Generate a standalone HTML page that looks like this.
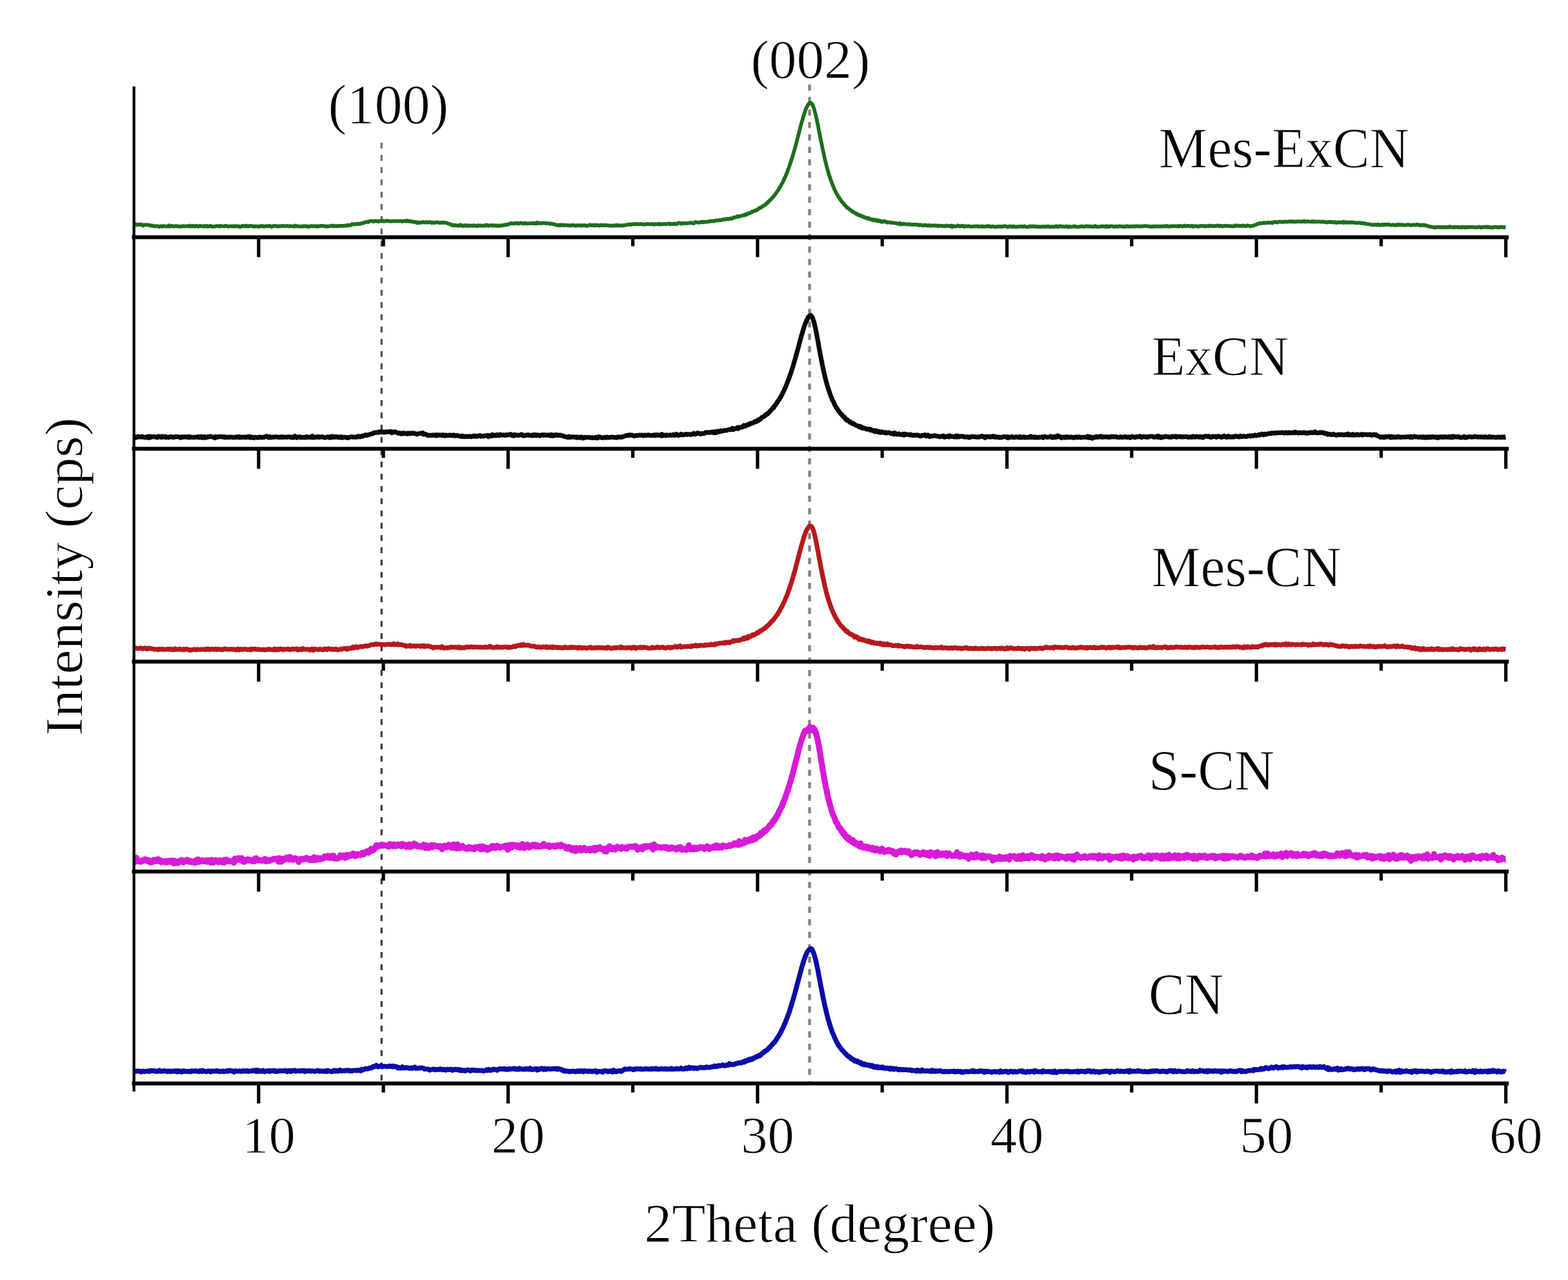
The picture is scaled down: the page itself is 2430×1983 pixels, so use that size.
<!DOCTYPE html>
<html><head><meta charset="utf-8"><title>XRD patterns</title>
<style>html,body{margin:0;padding:0;background:#fff;}svg{display:block;}</style>
</head><body>
<svg width="2430" height="1983" viewBox="0 0 2430 1983">
<rect width="100%" height="100%" fill="#fff"/>
<defs><linearGradient id="g100" gradientUnits="userSpaceOnUse" x1="0" y1="221" x2="0" y2="700"><stop offset="0" stop-color="#727272"/><stop offset="1" stop-color="#3c3c3c"/></linearGradient></defs>
<line x1="591.3" y1="221" x2="591.3" y2="1676" stroke="url(#g100)" stroke-width="3.2" stroke-dasharray="9 10"/>
<line x1="1254.6" y1="131" x2="1254.6" y2="1676" stroke="#858585" stroke-width="4.5" stroke-dasharray="9.5 9.8"/>
<path d="M208.0 348.9L209.5 347.1L211.0 348.3L212.5 348.0L214.0 348.0L215.5 348.2L217.0 347.5L218.5 348.2L220.0 348.0L221.5 349.7L223.0 348.5L224.5 348.3L226.0 348.4L227.5 348.3L229.0 348.3L230.5 348.7L232.0 349.3L233.5 349.2L235.0 349.9L236.5 349.6L238.0 349.9L239.5 350.7L241.0 350.5L242.5 350.2L244.0 350.4L245.5 350.7L247.0 351.3L248.5 350.4L250.0 350.4L251.5 350.9L253.0 350.1L254.5 350.4L256.0 350.8L257.5 350.7L259.0 350.5L260.5 350.8L262.0 349.4L263.5 350.9L265.0 350.1L266.5 349.8L268.0 350.6L269.5 350.8L271.0 350.3L272.5 350.1L274.0 350.5L275.5 350.5L277.0 351.0L278.5 350.8L280.0 350.6L281.5 350.9L283.0 350.4L284.5 350.1L286.0 350.7L287.5 350.7L289.0 350.4L290.5 350.2L292.0 350.6L293.5 349.5L295.0 350.8L296.5 350.7L298.0 349.8L299.5 350.5L301.0 350.1L302.5 350.8L304.0 349.7L305.5 350.1L307.0 350.8L308.5 350.9L310.0 349.6L311.5 350.3L313.0 350.6L314.5 350.2L316.0 351.1L317.5 350.0L319.0 350.6L320.5 350.0L322.0 351.0L323.5 350.5L325.0 350.3L326.5 349.8L328.0 351.1L329.5 350.8L331.0 350.8L332.5 350.9L334.0 350.6L335.5 350.2L337.0 350.1L338.5 350.1L340.0 351.0L341.5 349.9L343.0 350.2L344.5 350.3L346.0 350.5L347.5 350.7L349.0 349.9L350.5 349.8L352.0 350.4L353.5 350.9L355.0 350.7L356.5 350.5L358.0 350.3L359.5 350.6L361.0 350.3L362.5 350.8L364.0 350.1L365.5 350.5L367.0 350.4L368.5 350.6L370.0 350.5L371.5 351.4L373.0 351.0L374.5 351.0L376.0 349.6L377.5 350.3L379.0 350.2L380.5 350.6L382.0 349.5L383.5 350.9L385.0 350.8L386.5 349.9L388.0 350.0L389.5 350.1L391.0 350.4L392.5 350.7L394.0 351.2L395.5 350.3L397.0 350.7L398.5 350.5L400.0 351.1L401.5 350.7L403.0 351.0L404.5 350.0L406.0 350.3L407.5 350.1L409.0 351.0L410.5 350.7L412.0 350.3L413.5 350.2L415.0 350.6L416.5 350.1L418.0 350.0L419.5 350.6L421.0 351.4L422.5 350.3L424.0 350.2L425.5 349.9L427.0 349.9L428.5 350.6L430.0 350.7L431.5 350.4L433.0 350.5L434.5 350.4L436.0 350.4L437.5 349.8L439.0 350.2L440.5 350.4L442.0 350.1L443.5 350.2L445.0 350.0L446.5 350.2L448.0 350.7L449.5 350.2L451.0 350.3L452.5 350.7L454.0 350.6L455.5 351.0L457.0 349.5L458.5 350.7L460.0 350.2L461.5 350.4L463.0 350.7L464.5 350.8L466.0 350.8L467.5 350.4L469.0 351.0L470.5 350.2L472.0 350.3L473.5 350.7L475.0 350.1L476.5 351.2L478.0 350.7L479.5 351.2L481.0 350.3L482.5 350.2L484.0 350.4L485.5 350.6L487.0 350.1L488.5 350.5L490.0 350.3L491.5 351.0L493.0 350.1L494.5 350.7L496.0 350.1L497.5 349.9L499.0 350.0L500.5 349.8L502.0 350.4L503.5 350.7L505.0 350.4L506.5 350.6L508.0 350.9L509.5 350.4L511.0 350.4L512.5 350.1L514.0 349.6L515.5 350.5L517.0 349.5L518.5 350.4L520.0 350.1L521.5 350.6L523.0 350.1L524.5 349.7L526.0 350.2L527.5 349.8L529.0 349.9L530.5 350.0L532.0 349.9L533.5 349.8L535.0 349.5L536.5 349.7L538.0 348.9L539.5 349.4L541.0 348.7L542.5 349.2L544.0 348.8L545.5 347.1L547.0 347.7L548.5 347.4L550.0 346.9L551.5 347.5L553.0 347.1L554.5 346.5L556.0 347.0L557.5 346.8L559.0 346.6L560.5 345.7L562.0 345.9L563.5 345.5L565.0 344.3L566.5 344.1L568.0 343.9L569.5 343.4L571.0 344.0L572.5 343.1L574.0 342.4L575.5 342.3L577.0 342.5L578.5 343.4L580.0 342.3L581.5 342.5L583.0 342.6L584.5 342.4L586.0 343.3L587.5 342.2L589.0 342.7L590.5 342.5L592.0 342.7L593.5 341.9L595.0 343.1L596.5 342.4L598.0 342.4L599.5 342.0L601.0 342.1L602.5 342.6L604.0 342.8L605.5 342.7L607.0 342.9L608.5 342.7L610.0 342.4L611.5 342.7L613.0 342.6L614.5 342.4L616.0 342.7L617.5 342.9L619.0 342.5L620.5 342.3L622.0 342.7L623.5 343.2L625.0 342.3L626.5 342.4L628.0 342.3L629.5 342.9L631.0 341.7L632.5 342.6L634.0 342.9L635.5 342.3L637.0 343.4L638.5 343.3L640.0 343.3L641.5 344.0L643.0 343.6L644.5 344.2L646.0 345.3L647.5 344.2L649.0 345.4L650.5 344.6L652.0 345.0L653.5 344.7L655.0 343.8L656.5 344.4L658.0 344.7L659.5 344.2L661.0 344.1L662.5 344.8L664.0 344.4L665.5 344.0L667.0 344.4L668.5 345.1L670.0 344.5L671.5 345.1L673.0 345.3L674.5 344.8L676.0 344.3L677.5 344.2L679.0 344.7L680.5 345.1L682.0 344.9L683.5 345.0L685.0 344.6L686.5 345.0L688.0 344.8L689.5 345.1L691.0 345.0L692.5 345.4L694.0 346.3L695.5 346.5L697.0 347.0L698.5 348.0L700.0 348.0L701.5 349.5L703.0 349.0L704.5 348.6L706.0 349.4L707.5 349.4L709.0 349.1L710.5 349.9L712.0 349.2L713.5 348.3L715.0 349.8L716.5 349.3L718.0 350.1L719.5 349.2L721.0 349.0L722.5 350.1L724.0 349.1L725.5 349.6L727.0 350.1L728.5 349.6L730.0 349.5L731.5 349.6L733.0 349.8L734.5 349.2L736.0 349.8L737.5 349.7L739.0 350.4L740.5 349.4L742.0 349.1L743.5 349.8L745.0 349.4L746.5 349.6L748.0 349.6L749.5 350.0L751.0 349.2L752.5 349.5L754.0 348.5L755.5 349.2L757.0 350.1L758.5 349.2L760.0 349.2L761.5 349.0L763.0 349.7L764.5 349.6L766.0 349.0L767.5 349.8L769.0 349.6L770.5 349.8L772.0 349.2L773.5 350.2L775.0 349.6L776.5 349.3L778.0 349.0L779.5 348.9L781.0 349.0L782.5 348.2L784.0 348.4L785.5 347.9L787.0 347.8L788.5 347.2L790.0 346.6L791.5 345.6L793.0 346.3L794.5 346.4L796.0 346.1L797.5 346.2L799.0 345.8L800.5 345.8L802.0 345.5L803.5 346.5L805.0 346.0L806.5 345.7L808.0 345.3L809.5 345.8L811.0 346.4L812.5 346.0L814.0 345.5L815.5 346.4L817.0 346.4L818.5 346.2L820.0 346.1L821.5 346.2L823.0 346.0L824.5 346.0L826.0 345.4L827.5 346.3L829.0 345.8L830.5 346.5L832.0 344.8L833.5 345.9L835.0 346.0L836.5 345.5L838.0 345.8L839.5 345.9L841.0 345.8L842.5 345.4L844.0 345.5L845.5 346.0L847.0 346.1L848.5 345.8L850.0 346.0L851.5 346.3L853.0 346.9L854.5 346.5L856.0 346.7L857.5 347.7L859.0 347.5L860.5 348.1L862.0 348.6L863.5 349.0L865.0 348.5L866.5 349.3L868.0 348.3L869.5 349.2L871.0 348.4L872.5 348.5L874.0 349.3L875.5 348.9L877.0 348.7L878.5 348.9L880.0 349.3L881.5 349.1L883.0 349.1L884.5 349.5L886.0 348.8L887.5 348.9L889.0 348.9L890.5 349.6L892.0 349.5L893.5 349.6L895.0 349.1L896.5 349.1L898.0 349.5L899.5 349.0L901.0 349.5L902.5 349.4L904.0 348.9L905.5 349.1L907.0 349.1L908.5 349.8L910.0 350.2L911.5 349.1L913.0 349.2L914.5 348.2L916.0 349.2L917.5 349.1L919.0 348.7L920.5 349.5L922.0 348.5L923.5 349.1L925.0 349.2L926.5 348.7L928.0 349.5L929.5 349.6L931.0 348.6L932.5 348.6L934.0 349.4L935.5 349.1L937.0 348.7L938.5 349.0L940.0 349.1L941.5 349.1L943.0 349.5L944.5 349.3L946.0 349.8L947.5 349.7L949.0 349.4L950.5 349.5L952.0 349.6L953.5 349.4L955.0 348.6L956.5 349.4L958.0 349.1L959.5 349.7L961.0 349.1L962.5 349.3L964.0 349.2L965.5 349.7L967.0 349.0L968.5 348.7L970.0 348.8L971.5 348.2L973.0 348.2L974.5 347.8L976.0 347.7L977.5 348.2L979.0 347.1L980.5 347.3L982.0 347.2L983.5 347.5L985.0 346.8L986.5 347.0L988.0 347.2L989.5 347.5L991.0 347.2L992.5 347.1L994.0 346.9L995.5 347.5L997.0 347.9L998.5 347.4L1000.0 347.4L1001.5 347.5L1003.0 346.9L1004.5 347.2L1006.0 347.2L1007.5 347.4L1009.0 347.3L1010.5 346.8L1012.0 347.7L1013.5 347.9L1015.0 347.1L1016.5 347.4L1018.0 347.3L1019.5 347.5L1021.0 346.6L1022.5 347.8L1024.0 347.0L1025.5 347.7L1027.0 347.2L1028.5 347.0L1030.0 347.1L1031.5 347.5L1033.0 346.8L1034.5 346.9L1036.0 346.9L1037.5 346.3L1039.0 347.5L1040.5 347.2L1042.0 346.9L1043.5 347.3L1045.0 346.4L1046.5 346.7L1048.0 347.3L1049.5 346.9L1051.0 345.6L1052.5 345.1L1054.0 345.9L1055.5 346.7L1057.0 346.0L1058.5 346.0L1060.0 346.2L1061.5 345.6L1063.0 345.9L1064.5 346.0L1066.0 345.8L1067.5 345.7L1069.0 345.2L1070.5 345.5L1072.0 345.1L1073.5 345.7L1075.0 346.1L1076.5 344.6L1078.0 344.0L1079.5 344.5L1081.0 344.7L1082.5 344.9L1084.0 344.8L1085.5 343.9L1087.0 343.8L1088.5 344.5L1090.0 343.4L1091.5 344.1L1093.0 343.5L1094.5 343.7L1096.0 343.6L1097.5 343.4L1099.0 343.3L1100.5 342.4L1102.0 342.8L1103.5 342.5L1105.0 342.4L1106.5 342.6L1108.0 341.9L1109.5 341.5L1111.0 341.3L1112.5 341.3L1114.0 341.5L1115.5 340.7L1117.0 341.2L1118.5 340.7L1120.0 340.2L1121.5 339.6L1123.0 340.0L1124.5 339.9L1126.0 338.7L1127.5 339.6L1129.0 339.5L1130.5 338.7L1132.0 338.5L1133.5 338.9L1135.0 338.2L1136.5 337.0L1138.0 337.0L1139.5 336.6L1141.0 336.3L1142.5 335.1L1144.0 335.9L1145.5 335.0L1147.0 334.9L1148.5 334.4L1150.0 334.3L1150.8 333.7L1151.5 333.3L1152.2 333.5L1153.0 333.7L1153.8 332.8L1154.5 333.2L1155.2 332.5L1156.0 331.9L1156.8 332.5L1157.5 331.3L1158.2 331.8L1159.0 330.9L1159.8 331.0L1160.5 330.1L1161.2 330.0L1162.0 330.4L1162.8 329.8L1163.5 329.4L1164.2 328.9L1165.0 328.9L1165.8 327.9L1166.5 327.7L1167.2 327.7L1168.0 327.1L1168.8 326.8L1169.5 326.7L1170.2 326.3L1171.0 325.9L1171.8 326.2L1172.5 325.6L1173.2 325.3L1174.0 324.4L1174.8 323.9L1175.5 323.1L1176.2 323.1L1177.0 322.0L1177.8 322.1L1178.5 322.1L1179.2 321.9L1180.0 321.2L1180.8 320.1L1181.5 320.1L1182.2 319.1L1183.0 319.1L1183.8 318.3L1184.5 318.1L1185.2 318.0L1186.0 316.9L1186.8 316.8L1187.5 315.5L1188.2 314.7L1189.0 314.6L1189.8 314.1L1190.5 312.7L1191.2 312.2L1192.0 311.1L1192.8 310.7L1193.5 310.3L1194.2 309.3L1195.0 308.3L1195.8 307.3L1196.5 307.0L1197.2 306.3L1198.0 305.4L1198.8 304.4L1199.5 303.1L1200.2 302.9L1201.0 301.5L1201.8 300.5L1202.5 299.7L1203.2 298.0L1204.0 297.4L1204.8 296.3L1205.5 295.3L1206.2 294.4L1207.0 293.0L1207.8 291.3L1208.5 290.4L1209.2 289.2L1210.0 287.9L1210.8 286.3L1211.5 284.8L1212.2 283.8L1213.0 282.3L1213.8 280.7L1214.5 278.9L1215.2 277.9L1216.0 275.5L1216.8 274.2L1217.5 272.9L1218.2 270.7L1219.0 269.0L1219.8 266.9L1220.5 265.3L1221.2 263.0L1222.0 261.2L1222.8 259.1L1223.5 256.8L1224.2 254.9L1225.0 252.4L1225.8 250.2L1226.5 247.9L1227.2 245.5L1228.0 243.2L1228.8 240.7L1229.5 238.0L1230.2 235.4L1231.0 232.8L1231.8 230.1L1232.5 227.5L1233.2 224.7L1234.0 221.9L1234.8 219.1L1235.5 216.1L1236.2 213.4L1237.0 210.3L1237.8 207.5L1238.5 204.8L1239.2 201.6L1240.0 198.8L1240.8 195.8L1241.5 193.0L1242.2 190.1L1243.0 187.5L1243.8 184.8L1244.5 182.2L1245.2 179.9L1246.0 177.3L1246.8 175.0L1247.5 172.7L1248.2 170.6L1249.0 168.6L1249.8 166.6L1250.5 165.3L1251.2 164.2L1252.0 162.8L1252.8 161.5L1253.5 161.2L1254.2 160.0L1255.0 159.5L1255.8 159.0L1256.1 159.1L1256.5 159.4L1257.2 160.5L1258.0 160.6L1258.8 161.5L1259.5 163.0L1260.2 164.9L1261.0 166.7L1261.8 169.3L1262.5 171.9L1263.2 174.7L1264.0 177.8L1264.8 180.8L1265.5 184.2L1266.2 187.9L1267.0 191.5L1267.8 195.0L1268.5 198.9L1269.2 202.7L1270.0 206.6L1270.8 210.4L1271.5 214.1L1272.2 217.9L1273.0 221.7L1273.8 225.4L1274.5 228.8L1275.2 232.3L1276.0 236.0L1276.8 239.3L1277.5 242.8L1278.2 246.1L1279.0 249.2L1279.8 252.3L1280.5 255.3L1281.2 258.3L1282.0 260.9L1282.8 263.8L1283.5 266.4L1284.2 268.9L1285.0 271.5L1285.8 273.6L1286.5 276.1L1287.2 278.1L1288.0 280.2L1288.8 282.2L1289.5 284.4L1290.2 286.1L1291.0 288.1L1291.8 289.7L1292.5 291.8L1293.2 293.6L1294.0 294.9L1294.8 296.7L1295.5 298.0L1296.2 299.8L1297.0 300.8L1297.8 301.8L1298.5 303.7L1299.2 304.6L1300.0 305.6L1300.8 306.9L1301.5 307.8L1302.2 309.2L1303.0 310.1L1303.8 311.7L1304.5 312.5L1305.2 312.8L1306.0 313.8L1306.8 314.9L1307.5 315.4L1308.2 316.7L1309.0 317.6L1309.8 318.1L1310.5 319.0L1311.2 320.0L1312.0 321.0L1312.8 321.7L1313.5 321.9L1314.2 322.8L1315.0 323.0L1315.8 323.9L1316.5 324.1L1317.2 325.2L1318.0 325.1L1318.8 325.8L1319.5 326.6L1320.2 327.3L1321.0 327.1L1321.8 327.9L1322.5 328.6L1323.2 329.1L1324.0 329.2L1324.8 329.9L1325.5 330.2L1326.2 331.2L1327.0 331.3L1327.8 331.1L1328.5 331.1L1329.2 332.3L1330.0 333.1L1330.8 333.0L1331.5 333.6L1332.2 333.5L1333.0 333.5L1333.8 334.6L1334.5 334.6L1335.2 335.2L1336.0 334.7L1336.8 335.6L1337.5 335.5L1338.2 336.3L1339.0 336.1L1339.8 336.3L1340.5 336.6L1341.2 337.6L1342.0 337.3L1342.8 337.3L1343.5 337.4L1344.2 337.6L1345.0 338.8L1345.8 337.8L1346.5 338.3L1347.2 339.1L1348.0 339.5L1348.8 339.2L1349.5 339.8L1350.2 340.0L1351.0 340.2L1351.8 340.0L1352.5 340.9L1353.2 340.5L1354.0 341.2L1354.8 340.3L1355.5 341.3L1356.2 340.6L1357.0 340.6L1357.8 341.6L1358.5 341.2L1359.2 341.9L1360.0 341.4L1360.8 342.6L1361.5 342.1L1362.2 341.8L1363.0 342.5L1363.8 342.9L1364.5 342.3L1365.2 343.0L1366.0 343.7L1366.8 343.4L1367.5 343.1L1368.2 343.0L1369.0 343.6L1369.8 342.9L1370.5 342.4L1372.0 343.6L1373.5 343.6L1375.0 344.9L1376.5 344.5L1378.0 344.3L1379.5 344.4L1381.0 345.2L1382.5 344.9L1384.0 345.1L1385.5 345.5L1387.0 345.7L1388.5 345.9L1390.0 346.0L1391.5 346.6L1393.0 346.9L1394.5 345.7L1396.0 347.6L1397.5 346.7L1399.0 347.3L1400.5 346.6L1402.0 347.2L1403.5 347.2L1405.0 347.3L1406.5 347.7L1408.0 347.7L1409.5 347.2L1411.0 347.6L1412.5 348.1L1414.0 348.1L1415.5 347.8L1417.0 347.9L1418.5 348.1L1420.0 347.8L1421.5 347.8L1423.0 349.0L1424.5 348.3L1426.0 348.6L1427.5 348.3L1429.0 349.2L1430.5 349.5L1432.0 348.7L1433.5 349.1L1435.0 348.7L1436.5 349.7L1438.0 349.5L1439.5 348.8L1441.0 349.7L1442.5 349.4L1444.0 349.5L1445.5 349.6L1447.0 349.2L1448.5 349.3L1450.0 349.8L1451.5 349.6L1453.0 349.3L1454.5 350.6L1456.0 349.7L1457.5 349.6L1459.0 349.6L1460.5 350.2L1462.0 350.4L1463.5 350.1L1465.0 350.4L1466.5 349.5L1468.0 350.0L1469.5 350.0L1471.0 350.2L1472.5 350.5L1474.0 349.5L1475.5 351.6L1477.0 350.0L1478.5 350.5L1480.0 350.7L1481.5 350.8L1483.0 350.5L1484.5 349.3L1486.0 350.0L1487.5 350.8L1489.0 350.1L1490.5 350.1L1492.0 349.6L1493.5 351.1L1495.0 350.8L1496.5 350.2L1498.0 350.6L1499.5 350.6L1501.0 350.2L1502.5 350.6L1504.0 350.8L1505.5 350.9L1507.0 351.2L1508.5 350.7L1510.0 350.5L1511.5 350.9L1513.0 350.5L1514.5 350.3L1516.0 351.2L1517.5 350.6L1519.0 350.9L1520.5 351.1L1522.0 350.4L1523.5 351.1L1525.0 351.0L1526.5 350.8L1528.0 351.0L1529.5 350.6L1531.0 350.0L1532.5 350.8L1534.0 350.5L1535.5 351.3L1537.0 351.0L1538.5 350.7L1540.0 350.9L1541.5 351.5L1543.0 351.4L1544.5 351.1L1546.0 351.1L1547.5 350.8L1549.0 350.9L1550.5 351.2L1552.0 350.9L1553.5 351.1L1555.0 350.5L1556.5 350.3L1558.0 350.3L1559.5 350.8L1561.0 351.5L1562.5 351.5L1564.0 350.6L1565.5 350.4L1567.0 351.3L1568.5 351.2L1570.0 350.5L1571.5 351.5L1573.0 351.1L1574.5 351.6L1576.0 351.2L1577.5 351.4L1579.0 351.2L1580.5 350.7L1582.0 350.9L1583.5 350.8L1585.0 351.4L1586.5 350.6L1588.0 350.4L1589.5 351.3L1591.0 351.5L1592.5 351.6L1594.0 351.5L1595.5 350.4L1597.0 350.8L1598.5 350.8L1600.0 351.0L1601.5 350.2L1603.0 351.0L1604.5 351.2L1606.0 350.7L1607.5 351.1L1609.0 351.5L1610.5 351.1L1612.0 351.5L1613.5 351.5L1615.0 351.2L1616.5 351.2L1618.0 350.9L1619.5 351.5L1621.0 350.9L1622.5 350.8L1624.0 351.3L1625.5 350.7L1627.0 351.2L1628.5 351.5L1630.0 351.1L1631.5 351.1L1633.0 351.4L1634.5 351.3L1636.0 350.4L1637.5 350.5L1639.0 351.6L1640.5 351.2L1642.0 350.2L1643.5 350.5L1645.0 351.0L1646.5 350.6L1648.0 351.2L1649.5 351.0L1651.0 351.2L1652.5 350.5L1654.0 351.2L1655.5 351.8L1657.0 350.7L1658.5 351.5L1660.0 351.4L1661.5 351.2L1663.0 351.0L1664.5 350.5L1666.0 350.6L1667.5 351.3L1669.0 351.4L1670.5 351.5L1672.0 351.3L1673.5 351.3L1675.0 350.8L1676.5 350.5L1678.0 351.0L1679.5 351.1L1681.0 351.0L1682.5 350.3L1684.0 350.7L1685.5 350.3L1687.0 351.0L1688.5 350.5L1690.0 350.8L1691.5 351.0L1693.0 351.0L1694.5 351.4L1696.0 350.5L1697.5 350.0L1699.0 351.3L1700.5 351.4L1702.0 351.4L1703.5 351.0L1705.0 351.1L1706.5 350.9L1708.0 350.3L1709.5 350.6L1711.0 351.0L1712.5 350.6L1714.0 351.6L1715.5 350.2L1717.0 350.7L1718.5 351.3L1720.0 350.6L1721.5 350.4L1723.0 350.3L1724.5 350.5L1726.0 351.4L1727.5 351.0L1729.0 351.0L1730.5 350.6L1732.0 351.1L1733.5 350.8L1735.0 350.4L1736.5 350.6L1738.0 350.8L1739.5 351.2L1741.0 350.7L1742.5 350.9L1744.0 351.5L1745.5 350.4L1747.0 350.2L1748.5 351.1L1750.0 350.9L1751.5 350.7L1753.0 350.8L1754.5 350.6L1756.0 350.9L1757.5 350.5L1759.0 351.0L1760.5 350.2L1762.0 350.3L1763.5 350.7L1765.0 350.5L1766.5 350.9L1768.0 350.6L1769.5 350.4L1771.0 350.7L1772.5 350.4L1774.0 350.0L1775.5 350.2L1777.0 350.3L1778.5 350.4L1780.0 350.6L1781.5 350.9L1783.0 350.8L1784.5 351.3L1786.0 351.1L1787.5 350.5L1789.0 351.2L1790.5 351.0L1792.0 350.4L1793.5 350.7L1795.0 351.0L1796.5 350.6L1798.0 350.9L1799.5 350.7L1801.0 350.8L1802.5 350.4L1804.0 350.6L1805.5 350.3L1807.0 350.7L1808.5 349.8L1810.0 350.6L1811.5 351.0L1813.0 350.7L1814.5 350.4L1816.0 350.7L1817.5 350.1L1819.0 350.1L1820.5 350.3L1822.0 350.3L1823.5 350.8L1825.0 350.0L1826.5 350.8L1828.0 349.8L1829.5 350.1L1831.0 350.4L1832.5 350.8L1834.0 350.1L1835.5 349.5L1837.0 350.5L1838.5 350.3L1840.0 349.9L1841.5 349.9L1843.0 350.0L1844.5 350.3L1846.0 350.6L1847.5 349.7L1849.0 351.2L1850.5 350.3L1852.0 350.1L1853.5 350.5L1855.0 350.3L1856.5 351.2L1858.0 350.7L1859.5 350.1L1861.0 350.1L1862.5 350.0L1864.0 350.1L1865.5 350.5L1867.0 349.9L1868.5 350.8L1870.0 350.1L1871.5 350.1L1873.0 350.5L1874.5 349.4L1876.0 349.8L1877.5 350.4L1879.0 350.1L1880.5 350.1L1882.0 350.3L1883.5 349.9L1885.0 350.0L1886.5 349.6L1888.0 349.3L1889.5 350.6L1891.0 349.7L1892.5 349.8L1894.0 350.6L1895.5 350.5L1897.0 349.8L1898.5 349.8L1900.0 350.0L1901.5 349.6L1903.0 350.2L1904.5 350.1L1906.0 350.1L1907.5 350.3L1909.0 350.3L1910.5 350.7L1912.0 350.6L1913.5 349.3L1915.0 350.3L1916.5 349.5L1918.0 349.4L1919.5 350.2L1921.0 349.6L1922.5 349.8L1924.0 350.3L1925.5 349.6L1927.0 349.5L1928.5 350.0L1930.0 350.4L1931.5 350.1L1933.0 349.2L1934.5 349.6L1936.0 349.8L1937.5 350.6L1939.0 350.1L1940.5 349.9L1942.0 349.8L1943.5 348.9L1945.0 348.7L1946.5 348.2L1948.0 347.1L1949.5 346.9L1951.0 346.7L1952.5 345.6L1954.0 346.0L1955.5 345.8L1957.0 345.8L1958.5 344.9L1960.0 345.2L1961.5 345.7L1963.0 345.3L1964.5 344.6L1966.0 344.9L1967.5 345.3L1969.0 344.6L1970.5 344.8L1972.0 345.5L1973.5 344.4L1975.0 344.3L1976.5 343.9L1978.0 343.9L1979.5 344.7L1981.0 344.0L1982.5 343.5L1984.0 343.5L1985.5 343.8L1987.0 344.0L1988.5 343.4L1990.0 343.9L1991.5 343.3L1993.0 343.6L1994.5 343.6L1996.0 343.6L1997.5 343.2L1999.0 343.2L2000.5 343.5L2002.0 342.8L2003.5 343.4L2005.0 343.5L2006.5 343.7L2008.0 343.3L2009.5 343.2L2011.0 343.4L2012.5 343.0L2014.0 343.2L2015.5 343.5L2017.0 343.4L2018.5 342.9L2020.0 343.2L2021.5 342.5L2023.0 343.6L2024.5 343.1L2026.0 343.4L2027.5 342.9L2029.0 343.3L2030.5 343.5L2032.0 343.7L2033.5 342.8L2035.0 343.7L2036.5 343.3L2038.0 343.1L2039.5 343.7L2041.0 343.4L2042.5 343.4L2044.0 343.3L2045.5 343.7L2047.0 343.7L2048.5 343.6L2050.0 343.4L2051.5 343.6L2053.0 344.0L2054.5 344.4L2056.0 343.9L2057.5 344.5L2059.0 344.0L2060.5 343.6L2062.0 344.3L2063.5 343.7L2065.0 344.3L2066.5 344.6L2068.0 344.1L2069.5 344.2L2071.0 345.3L2072.5 344.4L2074.0 344.5L2075.5 344.7L2077.0 344.4L2078.5 344.5L2080.0 344.7L2081.5 343.6L2083.0 345.2L2084.5 344.2L2086.0 344.2L2087.5 344.9L2089.0 344.8L2090.5 344.3L2092.0 344.9L2093.5 344.4L2095.0 344.6L2096.5 344.3L2098.0 344.7L2099.5 345.2L2101.0 345.1L2102.5 345.2L2104.0 345.5L2105.5 345.2L2107.0 345.0L2108.5 345.2L2110.0 346.1L2111.5 345.7L2113.0 346.0L2114.5 346.1L2116.0 346.6L2117.5 346.9L2119.0 347.0L2120.5 347.2L2122.0 347.3L2123.5 347.5L2125.0 348.1L2126.5 348.4L2128.0 348.5L2129.5 348.2L2131.0 347.9L2132.5 348.5L2134.0 348.5L2135.5 347.6L2137.0 348.6L2138.5 348.5L2140.0 348.9L2141.5 347.8L2143.0 347.8L2144.5 348.6L2146.0 347.6L2147.5 348.0L2149.0 347.9L2150.5 347.9L2152.0 347.6L2153.5 348.2L2155.0 348.7L2156.5 348.5L2158.0 348.5L2159.5 348.2L2161.0 349.0L2162.5 348.6L2164.0 348.8L2165.5 347.8L2167.0 348.6L2168.5 348.0L2170.0 348.6L2171.5 348.5L2173.0 348.0L2174.5 348.5L2176.0 348.9L2177.5 348.7L2179.0 348.7L2180.5 348.1L2182.0 348.2L2183.5 348.1L2185.0 348.6L2186.5 349.0L2188.0 348.7L2189.5 348.5L2191.0 348.1L2192.5 348.7L2194.0 348.5L2195.5 347.8L2197.0 347.9L2198.5 348.5L2200.0 348.3L2201.5 349.3L2203.0 348.7L2204.5 348.3L2206.0 348.6L2207.5 349.5L2209.0 348.7L2210.5 349.6L2212.0 349.8L2213.5 350.6L2215.0 350.8L2216.5 350.9L2218.0 351.7L2219.5 351.7L2221.0 352.2L2222.5 351.9L2224.0 352.7L2225.5 351.9L2227.0 352.1L2228.5 351.6L2230.0 352.0L2231.5 351.9L2233.0 352.0L2234.5 352.3L2236.0 351.7L2237.5 351.6L2239.0 352.3L2240.5 351.8L2242.0 351.6L2243.5 352.4L2245.0 352.2L2246.5 350.9L2248.0 351.8L2249.5 352.2L2251.0 352.2L2252.5 351.7L2254.0 352.5L2255.5 351.6L2257.0 351.8L2258.5 352.0L2260.0 351.9L2261.5 352.2L2263.0 352.3L2264.5 351.9L2266.0 352.5L2267.5 351.6L2269.0 351.8L2270.5 352.6L2272.0 351.9L2273.5 352.3L2275.0 351.7L2276.5 351.8L2278.0 351.9L2279.5 352.0L2281.0 351.8L2282.5 351.9L2284.0 352.2L2285.5 352.4L2287.0 352.0L2288.5 352.2L2290.0 352.3L2291.5 351.5L2293.0 351.3L2294.5 352.6L2296.0 352.4L2297.5 351.9L2299.0 352.1L2300.5 351.5L2302.0 351.4L2303.5 352.0L2305.0 351.3L2306.5 352.3L2308.0 351.6L2309.5 352.0L2311.0 352.7L2312.5 352.7L2314.0 351.8L2315.5 352.3L2317.0 351.5L2318.5 351.7L2320.0 352.1L2321.5 352.5L2323.0 351.7L2324.5 352.1L2326.0 352.0L2327.5 351.4L2329.0 351.9L2330.5 352.5L2332.0 351.9L2333.5 352.1" fill="none" stroke="#1e6e1e" stroke-width="5.8" stroke-linejoin="round" stroke-linecap="butt"/>
<path d="M208.0 676.6L209.5 676.9L211.0 677.9L212.5 677.4L214.0 676.1L215.5 677.0L217.0 676.7L218.5 677.1L220.0 676.1L221.5 677.1L223.0 677.1L224.5 677.9L226.0 677.2L227.5 677.3L229.0 676.2L230.5 678.3L232.0 676.0L233.5 677.6L235.0 676.8L236.5 676.5L238.0 676.7L239.5 676.7L241.0 677.2L242.5 677.0L244.0 677.8L245.5 676.0L247.0 677.0L248.5 676.5L250.0 677.5L251.5 675.9L253.0 676.9L254.5 677.2L256.0 676.2L257.5 677.6L259.0 677.1L260.5 677.6L262.0 677.6L263.5 676.5L265.0 676.6L266.5 676.9L268.0 677.5L269.5 677.5L271.0 676.7L272.5 676.7L274.0 676.6L275.5 676.7L277.0 676.9L278.5 677.0L280.0 678.2L281.5 676.8L283.0 676.9L284.5 677.3L286.0 676.5L287.5 676.9L289.0 677.1L290.5 677.5L292.0 676.4L293.5 677.8L295.0 676.9L296.5 677.2L298.0 677.5L299.5 677.4L301.0 677.7L302.5 677.2L304.0 677.1L305.5 677.3L307.0 676.5L308.5 677.8L310.0 676.7L311.5 676.4L313.0 678.2L314.5 677.0L316.0 676.4L317.5 678.1L319.0 676.9L320.5 677.7L322.0 676.6L323.5 677.0L325.0 676.2L326.5 676.1L328.0 676.6L329.5 677.1L331.0 677.5L332.5 678.4L334.0 676.5L335.5 677.7L337.0 676.8L338.5 677.0L340.0 676.3L341.5 676.3L343.0 676.7L344.5 676.5L346.0 677.1L347.5 676.7L349.0 677.8L350.5 677.2L352.0 677.2L353.5 677.7L355.0 677.4L356.5 677.1L358.0 677.1L359.5 677.1L361.0 677.7L362.5 677.6L364.0 677.3L365.5 677.6L367.0 676.8L368.5 677.4L370.0 676.4L371.5 677.9L373.0 677.2L374.5 677.2L376.0 677.5L377.5 677.1L379.0 677.0L380.5 677.8L382.0 677.2L383.5 676.6L385.0 677.4L386.5 676.2L388.0 678.1L389.5 677.1L391.0 677.2L392.5 678.4L394.0 678.3L395.5 677.2L397.0 677.5L398.5 677.8L400.0 678.1L401.5 677.1L403.0 677.2L404.5 677.8L406.0 677.3L407.5 677.6L409.0 677.5L410.5 676.5L412.0 676.7L413.5 675.7L415.0 677.0L416.5 677.9L418.0 676.6L419.5 677.8L421.0 677.7L422.5 677.1L424.0 677.2L425.5 677.2L427.0 676.7L428.5 677.0L430.0 677.1L431.5 677.5L433.0 677.6L434.5 676.8L436.0 677.6L437.5 676.7L439.0 677.1L440.5 677.4L442.0 677.2L443.5 677.1L445.0 677.3L446.5 676.9L448.0 676.8L449.5 677.1L451.0 677.7L452.5 677.1L454.0 678.2L455.5 677.3L457.0 675.5L458.5 676.9L460.0 678.1L461.5 677.2L463.0 676.9L464.5 676.7L466.0 677.9L467.5 677.7L469.0 677.6L470.5 677.4L472.0 678.0L473.5 677.6L475.0 676.5L476.5 677.6L478.0 677.3L479.5 677.1L481.0 677.6L482.5 677.2L484.0 675.6L485.5 678.0L487.0 677.8L488.5 677.1L490.0 677.0L491.5 677.3L493.0 676.5L494.5 677.4L496.0 677.1L497.5 677.0L499.0 676.7L500.5 676.8L502.0 677.8L503.5 677.9L505.0 677.5L506.5 677.2L508.0 676.7L509.5 677.6L511.0 678.1L512.5 676.3L514.0 677.8L515.5 676.0L517.0 677.0L518.5 677.4L520.0 676.4L521.5 676.4L523.0 677.3L524.5 677.7L526.0 676.9L527.5 677.9L529.0 676.8L530.5 678.2L532.0 677.3L533.5 677.3L535.0 677.5L536.5 677.4L538.0 678.2L539.5 678.4L541.0 677.5L542.5 677.1L544.0 676.6L545.5 676.8L547.0 677.2L548.5 677.1L550.0 677.1L551.5 677.0L553.0 677.1L554.5 675.9L556.0 675.8L557.5 676.8L559.0 676.4L560.5 675.4L562.0 676.1L563.5 674.8L565.0 674.7L566.5 673.6L568.0 674.6L569.5 673.8L571.0 674.0L572.5 673.3L574.0 672.6L575.5 672.1L577.0 672.2L578.5 671.0L580.0 670.5L581.5 670.1L583.0 670.1L584.5 669.9L586.0 670.2L587.5 669.0L589.0 669.7L590.5 668.7L592.0 669.4L593.5 669.1L595.0 670.0L596.5 669.4L598.0 668.8L599.5 669.3L601.0 669.2L602.5 668.9L604.0 668.9L605.5 668.5L607.0 670.6L608.5 669.2L610.0 669.7L611.5 668.8L613.0 669.1L614.5 670.0L616.0 670.4L617.5 671.3L619.0 670.6L620.5 671.6L622.0 672.2L623.5 670.9L625.0 671.9L626.5 670.9L628.0 671.6L629.5 671.6L631.0 672.4L632.5 671.0L634.0 671.5L635.5 672.0L637.0 670.8L638.5 671.4L640.0 671.0L641.5 671.0L643.0 671.8L644.5 671.8L646.0 672.8L647.5 672.2L649.0 672.1L650.5 671.4L652.0 671.3L653.5 671.7L655.0 670.6L656.5 673.0L658.0 672.2L659.5 672.5L661.0 673.3L662.5 674.4L664.0 674.9L665.5 674.1L667.0 674.6L668.5 674.4L670.0 673.9L671.5 674.5L673.0 674.4L674.5 673.6L676.0 675.0L677.5 673.6L679.0 674.5L680.5 673.8L682.0 674.0L683.5 674.0L685.0 674.8L686.5 673.7L688.0 674.3L689.5 675.3L691.0 674.0L692.5 674.4L694.0 674.8L695.5 674.1L697.0 674.7L698.5 674.0L700.0 674.8L701.5 674.5L703.0 674.0L704.5 675.3L706.0 674.7L707.5 674.8L709.0 674.7L710.5 675.2L712.0 675.6L713.5 675.9L715.0 676.5L716.5 675.2L718.0 675.7L719.5 676.6L721.0 676.0L722.5 676.1L724.0 676.7L725.5 676.0L727.0 676.1L728.5 675.8L730.0 676.7L731.5 676.3L733.0 675.3L734.5 676.0L736.0 675.1L737.5 676.3L739.0 676.0L740.5 675.5L742.0 675.4L743.5 674.6L745.0 676.0L746.5 675.5L748.0 675.3L749.5 675.9L751.0 675.1L752.5 675.1L754.0 674.9L755.5 674.5L757.0 676.5L758.5 675.0L760.0 674.8L761.5 675.5L763.0 673.2L764.5 674.8L766.0 674.8L767.5 674.2L769.0 674.9L770.5 673.4L772.0 674.5L773.5 674.9L775.0 673.1L776.5 673.5L778.0 674.1L779.5 674.2L781.0 673.8L782.5 674.4L784.0 674.3L785.5 673.4L787.0 674.1L788.5 673.4L790.0 673.0L791.5 672.8L793.0 674.7L794.5 674.1L796.0 675.2L797.5 673.3L799.0 673.9L800.5 674.3L802.0 674.1L803.5 674.4L805.0 674.2L806.5 673.8L808.0 672.9L809.5 673.6L811.0 675.1L812.5 674.6L814.0 674.9L815.5 673.8L817.0 674.1L818.5 673.7L820.0 674.4L821.5 674.2L823.0 674.4L824.5 675.1L826.0 673.7L827.5 674.6L829.0 673.4L830.5 674.8L832.0 673.9L833.5 674.1L835.0 674.2L836.5 675.1L838.0 674.2L839.5 673.9L841.0 673.5L842.5 674.3L844.0 673.7L845.5 673.9L847.0 674.2L848.5 674.5L850.0 673.8L851.5 674.5L853.0 675.1L854.5 673.3L856.0 674.9L857.5 675.3L859.0 673.8L860.5 674.5L862.0 673.4L863.5 674.4L865.0 674.1L866.5 674.5L868.0 674.1L869.5 674.5L871.0 675.1L872.5 675.5L874.0 676.0L875.5 676.6L877.0 676.5L878.5 677.2L880.0 677.7L881.5 676.2L883.0 677.6L884.5 677.1L886.0 676.9L887.5 676.8L889.0 677.1L890.5 677.1L892.0 677.8L893.5 676.9L895.0 678.1L896.5 677.1L898.0 678.0L899.5 678.2L901.0 676.9L902.5 678.2L904.0 678.8L905.5 677.4L907.0 677.9L908.5 677.6L910.0 677.7L911.5 677.5L913.0 677.4L914.5 678.1L916.0 678.1L917.5 677.7L919.0 678.5L920.5 678.3L922.0 678.1L923.5 677.3L925.0 678.7L926.5 678.4L928.0 676.5L929.5 677.1L931.0 677.4L932.5 678.2L934.0 678.4L935.5 677.5L937.0 677.8L938.5 678.1L940.0 677.0L941.5 678.0L943.0 677.5L944.5 677.8L946.0 677.6L947.5 677.0L949.0 677.1L950.5 677.7L952.0 677.7L953.5 677.5L955.0 678.2L956.5 677.4L958.0 676.9L959.5 677.3L961.0 677.2L962.5 676.9L964.0 677.2L965.5 676.3L967.0 676.1L968.5 675.4L970.0 674.6L971.5 675.0L973.0 674.2L974.5 674.4L976.0 673.7L977.5 674.3L979.0 674.1L980.5 674.5L982.0 675.3L983.5 675.6L985.0 674.9L986.5 674.3L988.0 674.8L989.5 674.5L991.0 674.0L992.5 674.3L994.0 674.2L995.5 674.0L997.0 675.1L998.5 674.1L1000.0 674.1L1001.5 674.8L1003.0 674.0L1004.5 673.8L1006.0 673.9L1007.5 674.7L1009.0 674.6L1010.5 674.6L1012.0 674.1L1013.5 673.9L1015.0 674.9L1016.5 673.6L1018.0 674.3L1019.5 673.7L1021.0 674.2L1022.5 674.3L1024.0 675.0L1025.5 672.8L1027.0 675.1L1028.5 673.8L1030.0 674.5L1031.5 674.8L1033.0 673.9L1034.5 674.2L1036.0 674.5L1037.5 674.2L1039.0 673.8L1040.5 674.3L1042.0 674.2L1043.5 673.2L1045.0 674.7L1046.5 674.0L1048.0 672.5L1049.5 673.3L1051.0 674.6L1052.5 674.5L1054.0 673.7L1055.5 672.5L1057.0 673.3L1058.5 673.9L1060.0 673.4L1061.5 673.0L1063.0 672.6L1064.5 673.4L1066.0 672.7L1067.5 672.9L1069.0 672.9L1070.5 673.5L1072.0 672.6L1073.5 672.5L1075.0 671.3L1076.5 672.8L1078.0 672.5L1079.5 671.9L1081.0 670.6L1082.5 671.4L1084.0 671.6L1085.5 672.6L1087.0 671.7L1088.5 671.6L1090.0 671.5L1091.5 671.7L1093.0 670.2L1094.5 670.2L1096.0 669.9L1097.5 670.2L1099.0 670.0L1100.5 670.1L1102.0 669.3L1103.5 669.8L1105.0 669.1L1106.5 670.5L1108.0 668.9L1109.5 670.4L1111.0 669.7L1112.5 668.0L1114.0 668.9L1115.5 668.5L1117.0 667.2L1118.5 668.1L1120.0 667.5L1121.5 667.5L1123.0 666.6L1124.5 666.8L1126.0 666.8L1127.5 666.2L1129.0 665.7L1130.5 665.7L1132.0 664.9L1133.5 665.4L1135.0 663.5L1136.5 665.4L1138.0 664.3L1139.5 664.1L1141.0 664.0L1142.5 662.5L1144.0 664.0L1145.5 661.8L1147.0 662.3L1148.5 661.8L1150.0 661.9L1150.8 660.9L1151.5 660.0L1152.2 660.7L1153.0 659.0L1153.8 659.9L1154.5 659.5L1155.2 660.3L1156.0 659.1L1156.8 658.8L1157.5 658.4L1158.2 658.1L1159.0 657.9L1159.8 658.3L1160.5 657.0L1161.2 657.3L1162.0 656.3L1162.8 656.7L1163.5 656.6L1164.2 655.5L1165.0 655.6L1165.8 655.6L1166.5 655.6L1167.2 655.3L1168.0 654.5L1168.8 653.7L1169.5 653.0L1170.2 653.8L1171.0 653.7L1171.8 652.9L1172.5 653.1L1173.2 651.7L1174.0 651.3L1174.8 651.8L1175.5 650.2L1176.2 650.5L1177.0 649.9L1177.8 649.4L1178.5 649.7L1179.2 648.0L1180.0 647.7L1180.8 646.4L1181.5 646.4L1182.2 646.1L1183.0 645.6L1183.8 645.2L1184.5 644.9L1185.2 643.9L1186.0 642.7L1186.8 643.0L1187.5 642.5L1188.2 641.2L1189.0 640.8L1189.8 641.2L1190.5 640.2L1191.2 639.5L1192.0 638.6L1192.8 637.7L1193.5 636.7L1194.2 636.3L1195.0 635.3L1195.8 634.4L1196.5 633.7L1197.2 632.8L1198.0 632.3L1198.8 630.8L1199.5 631.1L1200.2 628.9L1201.0 628.2L1201.8 627.6L1202.5 626.0L1203.2 625.1L1204.0 624.2L1204.8 622.2L1205.5 621.8L1206.2 620.5L1207.0 619.6L1207.8 618.6L1208.5 617.4L1209.2 616.3L1210.0 615.0L1210.8 613.5L1211.5 611.8L1212.2 610.7L1213.0 608.7L1213.8 607.4L1214.5 606.2L1215.2 604.5L1216.0 602.4L1216.8 600.9L1217.5 599.5L1218.2 597.7L1219.0 596.0L1219.8 593.5L1220.5 591.7L1221.2 590.0L1222.0 587.9L1222.8 586.0L1223.5 583.9L1224.2 581.8L1225.0 579.6L1225.8 577.4L1226.5 575.2L1227.2 572.8L1228.0 570.1L1228.8 568.1L1229.5 565.5L1230.2 563.0L1231.0 560.4L1231.8 557.5L1232.5 555.2L1233.2 552.4L1234.0 549.6L1234.8 547.2L1235.5 544.2L1236.2 541.6L1237.0 538.9L1237.8 536.2L1238.5 532.9L1239.2 530.3L1240.0 527.7L1240.8 524.8L1241.5 521.6L1242.2 519.5L1243.0 516.9L1243.8 514.4L1244.5 511.8L1245.2 509.2L1246.0 507.0L1246.8 504.7L1247.5 502.5L1248.2 500.7L1249.0 498.8L1249.8 496.8L1250.5 495.7L1251.2 494.3L1252.0 493.0L1252.8 490.8L1253.5 490.9L1254.2 490.1L1255.0 489.2L1255.8 489.7L1256.5 488.4L1256.5 490.0L1257.2 489.7L1258.0 490.0L1258.8 491.7L1259.5 493.0L1260.2 494.9L1261.0 497.0L1261.8 500.0L1262.5 503.1L1263.2 506.4L1264.0 509.6L1264.8 513.6L1265.5 517.5L1266.2 521.4L1267.0 525.4L1267.8 529.4L1268.5 533.6L1269.2 537.8L1270.0 542.1L1270.8 546.2L1271.5 550.1L1272.2 554.0L1273.0 558.0L1273.8 561.8L1274.5 565.8L1275.2 569.1L1276.0 572.8L1276.8 576.2L1277.5 579.3L1278.2 582.7L1279.0 585.6L1279.8 588.5L1280.5 591.3L1281.2 594.2L1282.0 597.0L1282.8 599.0L1283.5 601.9L1284.2 604.1L1285.0 606.3L1285.8 608.6L1286.5 610.7L1287.2 612.7L1288.0 614.8L1288.8 616.3L1289.5 618.7L1290.2 620.1L1291.0 621.4L1291.8 622.7L1292.5 624.7L1293.2 626.1L1294.0 627.8L1294.8 629.1L1295.5 630.8L1296.2 631.5L1297.0 632.9L1297.8 633.8L1298.5 634.9L1299.2 636.6L1300.0 637.1L1300.8 638.1L1301.5 639.0L1302.2 640.2L1303.0 641.2L1303.8 641.8L1304.5 642.3L1305.2 643.7L1306.0 644.0L1306.8 645.0L1307.5 645.9L1308.2 646.7L1309.0 646.3L1309.8 648.7L1310.5 648.9L1311.2 650.1L1312.0 650.9L1312.8 650.0L1313.5 650.8L1314.2 651.7L1315.0 652.5L1315.8 652.4L1316.5 653.0L1317.2 654.2L1318.0 653.7L1318.8 654.7L1319.5 655.6L1320.2 655.4L1321.0 656.3L1321.8 656.3L1322.5 656.0L1323.2 656.9L1324.0 657.4L1324.8 657.7L1325.5 658.3L1326.2 658.8L1327.0 659.1L1327.8 659.4L1328.5 659.4L1329.2 659.8L1330.0 660.1L1330.8 660.3L1331.5 661.6L1332.2 660.2L1333.0 661.6L1333.8 660.9L1334.5 661.7L1335.2 662.7L1336.0 662.3L1336.8 663.5L1337.5 662.5L1338.2 663.1L1339.0 663.1L1339.8 663.7L1340.5 663.7L1341.2 663.9L1342.0 664.4L1342.8 665.1L1343.5 664.8L1344.2 665.0L1345.0 665.0L1345.8 664.9L1346.5 664.7L1347.2 665.1L1348.0 665.9L1348.8 665.0L1349.5 666.6L1350.2 666.1L1351.0 666.0L1351.8 666.4L1352.5 667.2L1353.2 667.2L1354.0 667.3L1354.8 668.3L1355.5 668.7L1356.2 666.9L1357.0 668.3L1357.8 667.5L1358.5 667.3L1359.2 667.9L1360.0 668.9L1360.8 668.3L1361.5 668.4L1362.2 669.5L1363.0 669.2L1363.8 669.0L1364.5 670.1L1365.2 669.5L1366.0 669.0L1366.8 668.9L1367.5 669.4L1368.2 669.8L1369.0 670.3L1369.8 670.4L1370.5 670.1L1372.0 669.6L1373.5 671.0L1375.0 670.7L1376.5 670.2L1378.0 670.3L1379.5 671.3L1381.0 671.5L1382.5 671.9L1384.0 671.0L1385.5 672.8L1387.0 670.9L1388.5 672.0L1390.0 672.9L1391.5 672.9L1393.0 671.9L1394.5 672.9L1396.0 673.4L1397.5 673.2L1399.0 672.4L1400.5 674.0L1402.0 672.3L1403.5 673.3L1405.0 672.8L1406.5 673.2L1408.0 673.4L1409.5 673.9L1411.0 673.0L1412.5 674.0L1414.0 674.6L1415.5 674.1L1417.0 674.4L1418.5 674.4L1420.0 673.8L1421.5 674.1L1423.0 674.4L1424.5 674.8L1426.0 675.7L1427.5 675.5L1429.0 674.4L1430.5 674.5L1432.0 674.3L1433.5 673.6L1435.0 675.7L1436.5 675.3L1438.0 674.0L1439.5 675.2L1441.0 676.5L1442.5 675.5L1444.0 675.6L1445.5 675.5L1447.0 675.0L1448.5 674.9L1450.0 675.1L1451.5 675.7L1453.0 675.5L1454.5 676.1L1456.0 676.7L1457.5 676.1L1459.0 676.3L1460.5 675.7L1462.0 675.2L1463.5 677.2L1465.0 676.4L1466.5 676.7L1468.0 675.9L1469.5 675.2L1471.0 676.9L1472.5 675.0L1474.0 676.2L1475.5 676.0L1477.0 676.4L1478.5 676.8L1480.0 676.8L1481.5 675.2L1483.0 677.0L1484.5 675.4L1486.0 676.8L1487.5 676.2L1489.0 675.9L1490.5 676.2L1492.0 675.8L1493.5 676.6L1495.0 677.1L1496.5 677.0L1498.0 676.6L1499.5 677.3L1501.0 676.9L1502.5 677.9L1504.0 677.0L1505.5 676.4L1507.0 676.6L1508.5 676.3L1510.0 676.6L1511.5 676.7L1513.0 677.2L1514.5 677.2L1516.0 676.8L1517.5 677.1L1519.0 676.4L1520.5 676.5L1522.0 675.5L1523.5 676.4L1525.0 676.6L1526.5 678.3L1528.0 676.2L1529.5 677.0L1531.0 676.7L1532.5 676.1L1534.0 677.1L1535.5 677.0L1537.0 676.2L1538.5 675.7L1540.0 677.0L1541.5 676.2L1543.0 677.4L1544.5 676.9L1546.0 677.3L1547.5 676.9L1549.0 677.9L1550.5 677.4L1552.0 677.9L1553.5 677.1L1555.0 676.5L1556.5 676.3L1558.0 676.8L1559.5 677.3L1561.0 676.7L1562.5 678.5L1564.0 677.1L1565.5 677.4L1567.0 677.2L1568.5 676.4L1570.0 677.7L1571.5 677.5L1573.0 677.6L1574.5 676.6L1576.0 677.2L1577.5 677.1L1579.0 677.8L1580.5 676.4L1582.0 677.6L1583.5 677.9L1585.0 677.0L1586.5 676.7L1588.0 677.9L1589.5 677.3L1591.0 677.8L1592.5 677.6L1594.0 677.8L1595.5 677.1L1597.0 676.0L1598.5 677.6L1600.0 676.8L1601.5 677.6L1603.0 676.9L1604.5 678.1L1606.0 677.1L1607.5 677.7L1609.0 677.9L1610.5 677.2L1612.0 677.4L1613.5 677.2L1615.0 676.7L1616.5 678.1L1618.0 676.7L1619.5 676.4L1621.0 677.0L1622.5 677.3L1624.0 677.3L1625.5 677.0L1627.0 677.0L1628.5 676.0L1630.0 677.6L1631.5 678.2L1633.0 676.8L1634.5 676.2L1636.0 677.6L1637.5 677.1L1639.0 675.0L1640.5 676.8L1642.0 676.4L1643.5 676.6L1645.0 678.3L1646.5 677.8L1648.0 677.1L1649.5 677.2L1651.0 678.1L1652.5 676.6L1654.0 677.6L1655.5 676.9L1657.0 677.7L1658.5 677.3L1660.0 676.8L1661.5 677.8L1663.0 677.5L1664.5 678.3L1666.0 677.0L1667.5 677.3L1669.0 676.8L1670.5 677.9L1672.0 676.8L1673.5 677.2L1675.0 677.9L1676.5 677.5L1678.0 677.3L1679.5 677.3L1681.0 677.4L1682.5 677.5L1684.0 677.0L1685.5 676.0L1687.0 677.9L1688.5 676.6L1690.0 678.2L1691.5 677.3L1693.0 679.0L1694.5 677.8L1696.0 677.4L1697.5 677.7L1699.0 676.3L1700.5 677.2L1702.0 676.9L1703.5 677.1L1705.0 675.9L1706.5 675.9L1708.0 677.5L1709.5 677.1L1711.0 676.8L1712.5 677.0L1714.0 676.7L1715.5 676.8L1717.0 677.5L1718.5 676.9L1720.0 677.5L1721.5 676.7L1723.0 676.0L1724.5 676.7L1726.0 677.0L1727.5 676.4L1729.0 676.8L1730.5 676.7L1732.0 677.5L1733.5 677.5L1735.0 677.6L1736.5 676.6L1738.0 677.2L1739.5 677.7L1741.0 677.1L1742.5 676.9L1744.0 676.5L1745.5 677.4L1747.0 677.1L1748.5 677.5L1750.0 676.9L1751.5 678.1L1753.0 676.9L1754.5 676.2L1756.0 677.1L1757.5 677.2L1759.0 677.7L1760.5 676.7L1762.0 676.6L1763.5 676.8L1765.0 676.7L1766.5 675.7L1768.0 677.3L1769.5 677.6L1771.0 676.5L1772.5 676.3L1774.0 676.8L1775.5 676.4L1777.0 677.3L1778.5 676.5L1780.0 677.2L1781.5 676.1L1783.0 676.0L1784.5 676.0L1786.0 676.0L1787.5 677.1L1789.0 677.3L1790.5 676.9L1792.0 676.9L1793.5 675.6L1795.0 677.4L1796.5 676.1L1798.0 677.5L1799.5 678.2L1801.0 676.8L1802.5 677.1L1804.0 677.1L1805.5 676.0L1807.0 676.1L1808.5 676.4L1810.0 676.8L1811.5 677.2L1813.0 676.8L1814.5 677.4L1816.0 676.4L1817.5 675.9L1819.0 676.7L1820.5 676.7L1822.0 675.9L1823.5 677.3L1825.0 676.1L1826.5 676.3L1828.0 676.8L1829.5 676.1L1831.0 677.0L1832.5 676.9L1834.0 676.9L1835.5 676.6L1837.0 676.4L1838.5 676.2L1840.0 676.8L1841.5 677.4L1843.0 677.1L1844.5 676.8L1846.0 677.2L1847.5 677.4L1849.0 675.9L1850.5 676.6L1852.0 677.3L1853.5 676.2L1855.0 676.3L1856.5 676.9L1858.0 676.4L1859.5 677.2L1861.0 676.4L1862.5 676.9L1864.0 678.0L1865.5 677.2L1867.0 675.8L1868.5 675.9L1870.0 675.9L1871.5 676.5L1873.0 675.7L1874.5 676.8L1876.0 677.5L1877.5 677.4L1879.0 676.0L1880.5 676.3L1882.0 676.3L1883.5 676.0L1885.0 677.4L1886.5 676.0L1888.0 675.8L1889.5 676.6L1891.0 676.6L1892.5 677.3L1894.0 677.3L1895.5 676.3L1897.0 675.2L1898.5 676.8L1900.0 676.8L1901.5 677.4L1903.0 675.5L1904.5 675.7L1906.0 677.2L1907.5 677.2L1909.0 677.0L1910.5 676.3L1912.0 677.0L1913.5 676.0L1915.0 675.6L1916.5 676.2L1918.0 676.3L1919.5 676.7L1921.0 676.9L1922.5 675.2L1924.0 676.4L1925.5 676.5L1927.0 675.5L1928.5 676.0L1930.0 676.2L1931.5 676.4L1933.0 675.5L1934.5 675.6L1936.0 675.1L1937.5 675.8L1939.0 675.2L1940.5 674.9L1942.0 675.3L1943.5 674.7L1945.0 673.9L1946.5 675.0L1948.0 674.7L1949.5 674.2L1951.0 673.2L1952.5 674.2L1954.0 673.1L1955.5 672.2L1957.0 672.9L1958.5 673.8L1960.0 672.3L1961.5 672.7L1963.0 673.0L1964.5 672.1L1966.0 671.6L1967.5 671.6L1969.0 671.7L1970.5 670.9L1972.0 671.2L1973.5 671.2L1975.0 670.5L1976.5 671.0L1978.0 670.9L1979.5 670.3L1981.0 670.4L1982.5 670.5L1984.0 670.4L1985.5 670.4L1987.0 669.9L1988.5 670.5L1990.0 670.9L1991.5 670.8L1993.0 670.0L1994.5 670.8L1996.0 670.8L1997.5 670.0L1999.0 670.8L2000.5 670.4L2002.0 670.3L2003.5 670.6L2005.0 670.4L2006.5 669.2L2008.0 670.6L2009.5 669.9L2011.0 670.4L2012.5 670.9L2014.0 670.4L2015.5 670.2L2017.0 670.6L2018.5 670.8L2020.0 670.0L2021.5 670.1L2023.0 670.8L2024.5 671.4L2026.0 670.5L2027.5 671.0L2029.0 670.1L2030.5 670.5L2032.0 670.5L2033.5 669.8L2035.0 670.5L2036.5 670.4L2038.0 669.1L2039.5 670.4L2041.0 670.6L2042.5 670.6L2044.0 670.6L2045.5 669.9L2047.0 670.1L2048.5 670.4L2050.0 670.1L2051.5 670.5L2053.0 671.7L2054.5 671.0L2056.0 671.7L2057.5 673.2L2059.0 672.6L2060.5 672.4L2062.0 673.2L2063.5 673.3L2065.0 673.3L2066.5 672.4L2068.0 673.4L2069.5 673.5L2071.0 674.4L2072.5 673.7L2074.0 673.0L2075.5 673.5L2077.0 673.7L2078.5 673.2L2080.0 673.3L2081.5 674.0L2083.0 673.6L2084.5 673.6L2086.0 672.8L2087.5 673.5L2089.0 672.3L2090.5 674.0L2092.0 673.1L2093.5 673.7L2095.0 674.1L2096.5 672.7L2098.0 674.0L2099.5 673.5L2101.0 674.0L2102.5 673.1L2104.0 673.0L2105.5 674.0L2107.0 673.6L2108.5 673.4L2110.0 672.7L2111.5 674.1L2113.0 673.2L2114.5 673.2L2116.0 673.0L2117.5 673.3L2119.0 673.7L2120.5 673.3L2122.0 673.3L2123.5 673.0L2125.0 674.2L2126.5 674.3L2128.0 673.3L2129.5 673.1L2131.0 674.0L2132.5 673.3L2134.0 674.8L2135.5 675.3L2137.0 675.8L2138.5 677.0L2140.0 677.5L2141.5 677.0L2143.0 676.7L2144.5 677.6L2146.0 677.6L2147.5 676.4L2149.0 676.6L2150.5 676.9L2152.0 676.1L2153.5 676.4L2155.0 677.9L2156.5 676.3L2158.0 677.5L2159.5 676.6L2161.0 677.6L2162.5 677.2L2164.0 677.5L2165.5 676.3L2167.0 677.2L2168.5 676.7L2170.0 677.4L2171.5 677.4L2173.0 677.1L2174.5 677.0L2176.0 677.0L2177.5 677.2L2179.0 676.8L2180.5 676.8L2182.0 676.7L2183.5 676.5L2185.0 677.6L2186.5 676.3L2188.0 677.7L2189.5 677.4L2191.0 676.1L2192.5 676.0L2194.0 677.0L2195.5 676.5L2197.0 677.1L2198.5 677.5L2200.0 677.2L2201.5 676.9L2203.0 676.9L2204.5 677.8L2206.0 676.8L2207.5 678.0L2209.0 678.1L2210.5 676.8L2212.0 677.2L2213.5 678.0L2215.0 676.7L2216.5 677.3L2218.0 677.6L2219.5 676.5L2221.0 677.2L2222.5 677.1L2224.0 676.8L2225.5 677.9L2227.0 677.0L2228.5 678.3L2230.0 677.4L2231.5 676.7L2233.0 677.2L2234.5 676.6L2236.0 677.5L2237.5 677.4L2239.0 676.4L2240.5 676.8L2242.0 677.3L2243.5 677.1L2245.0 676.5L2246.5 677.6L2248.0 677.8L2249.5 676.3L2251.0 677.8L2252.5 676.0L2254.0 677.0L2255.5 676.7L2257.0 676.7L2258.5 677.1L2260.0 676.4L2261.5 677.0L2263.0 677.9L2264.5 677.3L2266.0 677.8L2267.5 677.5L2269.0 676.2L2270.5 678.0L2272.0 677.5L2273.5 677.4L2275.0 676.8L2276.5 676.8L2278.0 676.5L2279.5 677.0L2281.0 677.1L2282.5 677.0L2284.0 677.0L2285.5 676.0L2287.0 676.6L2288.5 676.6L2290.0 677.2L2291.5 676.8L2293.0 676.8L2294.5 677.1L2296.0 676.8L2297.5 676.9L2299.0 677.6L2300.5 676.9L2302.0 676.5L2303.5 677.4L2305.0 677.5L2306.5 677.4L2308.0 676.3L2309.5 677.5L2311.0 677.1L2312.5 677.1L2314.0 677.1L2315.5 677.3L2317.0 677.3L2318.5 677.8L2320.0 677.2L2321.5 677.0L2323.0 677.4L2324.5 677.0L2326.0 677.6L2327.5 677.1L2329.0 677.4L2330.5 676.8L2332.0 677.6L2333.5 677.4" fill="none" stroke="#0a0a0a" stroke-width="7.2" stroke-linejoin="round" stroke-linecap="butt"/>
<path d="M208.0 1003.8L209.5 1003.5L211.0 1004.1L212.5 1004.5L214.0 1004.9L215.5 1004.4L217.0 1004.0L218.5 1003.9L220.0 1004.8L221.5 1005.3L223.0 1004.6L224.5 1003.8L226.0 1004.0L227.5 1005.5L229.0 1004.8L230.5 1003.9L232.0 1005.0L233.5 1004.5L235.0 1005.0L236.5 1005.3L238.0 1005.3L239.5 1006.2L241.0 1006.0L242.5 1005.8L244.0 1006.4L245.5 1006.6L247.0 1005.3L248.5 1006.0L250.0 1005.7L251.5 1006.1L253.0 1005.5L254.5 1006.2L256.0 1006.2L257.5 1006.0L259.0 1005.6L260.5 1006.0L262.0 1005.6L263.5 1005.4L265.0 1006.3L266.5 1005.6L268.0 1006.8L269.5 1006.6L271.0 1005.1L272.5 1006.3L274.0 1005.6L275.5 1006.2L277.0 1006.2L278.5 1005.1L280.0 1006.0L281.5 1006.0L283.0 1006.7L284.5 1005.5L286.0 1006.6L287.5 1005.5L289.0 1006.0L290.5 1005.7L292.0 1006.9L293.5 1006.5L295.0 1007.5L296.5 1006.5L298.0 1006.6L299.5 1006.6L301.0 1005.8L302.5 1006.1L304.0 1006.9L305.5 1005.9L307.0 1006.2L308.5 1006.1L310.0 1006.5L311.5 1005.9L313.0 1006.0L314.5 1006.2L316.0 1006.2L317.5 1005.6L319.0 1006.6L320.5 1005.4L322.0 1005.4L323.5 1005.4L325.0 1006.6L326.5 1005.9L328.0 1005.6L329.5 1005.5L331.0 1006.3L332.5 1005.5L334.0 1005.4L335.5 1006.4L337.0 1005.4L338.5 1005.9L340.0 1006.1L341.5 1005.8L343.0 1006.0L344.5 1006.8L346.0 1005.8L347.5 1005.4L349.0 1005.1L350.5 1006.0L352.0 1005.9L353.5 1006.2L355.0 1005.8L356.5 1005.8L358.0 1005.7L359.5 1005.8L361.0 1006.1L362.5 1005.8L364.0 1006.1L365.5 1007.1L367.0 1006.3L368.5 1005.2L370.0 1007.0L371.5 1006.2L373.0 1005.5L374.5 1006.5L376.0 1006.0L377.5 1005.7L379.0 1005.7L380.5 1005.5L382.0 1006.1L383.5 1006.6L385.0 1005.8L386.5 1006.3L388.0 1007.0L389.5 1005.3L391.0 1006.2L392.5 1005.8L394.0 1005.4L395.5 1005.4L397.0 1006.0L398.5 1006.2L400.0 1005.7L401.5 1006.0L403.0 1006.4L404.5 1006.2L406.0 1006.5L407.5 1006.2L409.0 1006.3L410.5 1007.0L412.0 1006.3L413.5 1006.1L415.0 1006.4L416.5 1005.5L418.0 1005.8L419.5 1006.4L421.0 1006.3L422.5 1006.8L424.0 1006.0L425.5 1005.2L427.0 1007.0L428.5 1006.6L430.0 1005.4L431.5 1006.7L433.0 1006.0L434.5 1005.0L436.0 1005.7L437.5 1005.7L439.0 1006.8L440.5 1005.5L442.0 1005.8L443.5 1005.8L445.0 1005.7L446.5 1005.4L448.0 1006.0L449.5 1006.5L451.0 1006.3L452.5 1005.4L454.0 1005.3L455.5 1006.0L457.0 1005.5L458.5 1005.6L460.0 1005.0L461.5 1007.0L463.0 1006.4L464.5 1005.4L466.0 1006.4L467.5 1006.6L469.0 1004.6L470.5 1005.6L472.0 1005.7L473.5 1006.2L475.0 1005.8L476.5 1005.8L478.0 1005.8L479.5 1006.9L481.0 1007.1L482.5 1005.6L484.0 1005.4L485.5 1007.4L487.0 1005.3L488.5 1005.5L490.0 1005.9L491.5 1006.1L493.0 1006.4L494.5 1006.1L496.0 1005.4L497.5 1006.1L499.0 1006.0L500.5 1006.9L502.0 1005.8L503.5 1005.1L505.0 1005.3L506.5 1006.6L508.0 1005.5L509.5 1004.7L511.0 1005.5L512.5 1005.8L514.0 1006.5L515.5 1005.3L517.0 1006.2L518.5 1006.3L520.0 1005.4L521.5 1005.7L523.0 1006.8L524.5 1006.7L526.0 1006.1L527.5 1005.7L529.0 1006.1L530.5 1005.2L532.0 1005.1L533.5 1004.5L535.0 1004.8L536.5 1004.6L538.0 1006.0L539.5 1004.2L541.0 1004.8L542.5 1004.7L544.0 1003.7L545.5 1004.3L547.0 1002.3L548.5 1003.4L550.0 1003.7L551.5 1001.7L553.0 1002.3L554.5 1003.3L556.0 1002.4L557.5 1001.7L559.0 1001.9L560.5 1001.6L562.0 1002.0L563.5 1001.6L565.0 1001.0L566.5 1000.5L568.0 1000.6L569.5 1001.1L571.0 1000.3L572.5 1000.2L574.0 999.4L575.5 998.5L577.0 998.5L578.5 999.0L580.0 998.5L581.5 997.8L583.0 997.4L584.5 998.3L586.0 998.0L587.5 998.0L589.0 998.0L590.5 998.4L592.0 998.4L593.5 998.7L595.0 998.7L596.5 998.9L598.0 998.6L599.5 998.0L601.0 998.2L602.5 998.5L604.0 998.0L605.5 998.5L607.0 998.8L608.5 997.8L610.0 997.2L611.5 998.9L613.0 998.2L614.5 998.6L616.0 997.5L617.5 999.2L619.0 998.7L620.5 998.4L622.0 998.6L623.5 999.2L625.0 999.5L626.5 999.9L628.0 999.9L629.5 1001.4L631.0 1000.9L632.5 1001.0L634.0 1001.0L635.5 999.7L637.0 1001.3L638.5 1000.8L640.0 1000.8L641.5 1001.0L643.0 1000.5L644.5 1001.5L646.0 1000.6L647.5 1000.5L649.0 1000.5L650.5 1001.1L652.0 1001.4L653.5 1000.7L655.0 1000.2L656.5 1001.6L658.0 1000.4L659.5 1001.7L661.0 1001.0L662.5 1000.7L664.0 1000.8L665.5 1001.6L667.0 1002.1L668.5 1001.9L670.0 1002.9L671.5 1003.9L673.0 1002.9L674.5 1002.5L676.0 1002.6L677.5 1002.5L679.0 1002.9L680.5 1002.8L682.0 1002.5L683.5 1003.5L685.0 1001.7L686.5 1002.4L688.0 1004.2L689.5 1003.7L691.0 1003.4L692.5 1003.3L694.0 1004.0L695.5 1003.3L697.0 1003.1L698.5 1002.3L700.0 1003.0L701.5 1002.6L703.0 1002.6L704.5 1002.6L706.0 1002.9L707.5 1002.8L709.0 1003.4L710.5 1002.2L712.0 1002.8L713.5 1004.0L715.0 1002.9L716.5 1003.6L718.0 1003.5L719.5 1003.6L721.0 1003.3L722.5 1002.1L724.0 1002.7L725.5 1002.7L727.0 1002.0L728.5 1002.6L730.0 1002.2L731.5 1001.9L733.0 1003.0L734.5 1002.8L736.0 1002.4L737.5 1002.3L739.0 1002.5L740.5 1002.6L742.0 1002.6L743.5 1002.8L745.0 1002.5L746.5 1003.0L748.0 1003.0L749.5 1002.9L751.0 1002.4L752.5 1002.4L754.0 1003.0L755.5 1002.6L757.0 1002.7L758.5 1001.3L760.0 1001.2L761.5 1002.9L763.0 1002.9L764.5 1003.4L766.0 1003.1L767.5 1002.8L769.0 1002.6L770.5 1001.8L772.0 1003.1L773.5 1002.3L775.0 1002.9L776.5 1002.7L778.0 1002.7L779.5 1003.1L781.0 1002.3L782.5 1002.3L784.0 1002.1L785.5 1002.3L787.0 1003.4L788.5 1002.3L790.0 1003.1L791.5 1002.8L793.0 1002.6L794.5 1002.4L796.0 1001.1L797.5 1001.6L799.0 1002.0L800.5 1000.4L802.0 1000.5L803.5 999.8L805.0 1000.1L806.5 999.0L808.0 1000.2L809.5 998.9L811.0 998.1L812.5 999.9L814.0 999.5L815.5 999.5L817.0 999.7L818.5 999.4L820.0 999.8L821.5 1000.5L823.0 1000.9L824.5 1001.2L826.0 1001.1L827.5 1000.9L829.0 1001.4L830.5 1002.3L832.0 1002.7L833.5 1002.0L835.0 1002.0L836.5 1003.1L838.0 1002.9L839.5 1002.9L841.0 1001.9L842.5 1002.4L844.0 1002.3L845.5 1002.8L847.0 1001.7L848.5 1003.4L850.0 1002.9L851.5 1003.0L853.0 1002.1L854.5 1002.7L856.0 1003.5L857.5 1001.9L859.0 1003.0L860.5 1003.2L862.0 1002.5L863.5 1003.3L865.0 1002.7L866.5 1003.6L868.0 1003.2L869.5 1003.1L871.0 1004.1L872.5 1003.4L874.0 1003.7L875.5 1002.4L877.0 1002.7L878.5 1003.5L880.0 1003.6L881.5 1003.1L883.0 1003.5L884.5 1002.5L886.0 1003.3L887.5 1002.5L889.0 1003.4L890.5 1002.9L892.0 1002.9L893.5 1003.3L895.0 1004.2L896.5 1002.7L898.0 1002.9L899.5 1003.9L901.0 1003.1L902.5 1004.3L904.0 1003.5L905.5 1003.4L907.0 1003.5L908.5 1004.3L910.0 1003.7L911.5 1003.7L913.0 1003.5L914.5 1002.5L916.0 1002.9L917.5 1004.2L919.0 1003.9L920.5 1003.7L922.0 1003.8L923.5 1003.2L925.0 1003.7L926.5 1003.0L928.0 1003.7L929.5 1003.1L931.0 1003.4L932.5 1003.8L934.0 1003.3L935.5 1003.9L937.0 1003.8L938.5 1003.7L940.0 1004.3L941.5 1002.7L943.0 1002.7L944.5 1003.9L946.0 1004.1L947.5 1004.7L949.0 1004.0L950.5 1004.0L952.0 1003.1L953.5 1004.0L955.0 1004.0L956.5 1003.0L958.0 1003.1L959.5 1003.5L961.0 1003.8L962.5 1002.0L964.0 1003.7L965.5 1003.7L967.0 1003.5L968.5 1003.8L970.0 1003.9L971.5 1003.1L973.0 1003.8L974.5 1003.5L976.0 1003.1L977.5 1003.7L979.0 1004.4L980.5 1002.8L982.0 1002.7L983.5 1002.7L985.0 1004.7L986.5 1003.5L988.0 1003.6L989.5 1003.1L991.0 1003.1L992.5 1002.5L994.0 1003.7L995.5 1003.7L997.0 1002.5L998.5 1003.0L1000.0 1003.1L1001.5 1003.5L1003.0 1003.6L1004.5 1004.1L1006.0 1004.2L1007.5 1004.1L1009.0 1004.2L1010.5 1002.8L1012.0 1003.1L1013.5 1004.0L1015.0 1003.6L1016.5 1003.4L1018.0 1002.3L1019.5 1002.3L1021.0 1003.7L1022.5 1003.5L1024.0 1003.1L1025.5 1003.0L1027.0 1002.3L1028.5 1003.4L1030.0 1003.8L1031.5 1004.1L1033.0 1003.2L1034.5 1003.0L1036.0 1002.5L1037.5 1003.7L1039.0 1003.9L1040.5 1002.6L1042.0 1003.1L1043.5 1002.9L1045.0 1002.4L1046.5 1001.3L1048.0 1002.4L1049.5 1002.9L1051.0 1001.7L1052.5 1001.9L1054.0 1000.5L1055.5 1002.9L1057.0 1002.4L1058.5 1002.1L1060.0 1001.8L1061.5 1001.5L1063.0 1001.7L1064.5 1001.5L1066.0 1001.4L1067.5 1001.5L1069.0 1001.5L1070.5 1002.1L1072.0 1000.4L1073.5 1001.2L1075.0 1000.6L1076.5 1000.2L1078.0 999.5L1079.5 1001.0L1081.0 1000.0L1082.5 1000.0L1084.0 1000.5L1085.5 999.6L1087.0 1000.0L1088.5 999.9L1090.0 1000.2L1091.5 1000.2L1093.0 999.0L1094.5 999.8L1096.0 999.1L1097.5 999.1L1099.0 998.8L1100.5 999.2L1102.0 997.9L1103.5 998.6L1105.0 998.9L1106.5 997.9L1108.0 999.0L1109.5 997.3L1111.0 997.6L1112.5 997.1L1114.0 996.8L1115.5 996.3L1117.0 996.4L1118.5 996.5L1120.0 995.8L1121.5 996.5L1123.0 996.6L1124.5 994.7L1126.0 995.8L1127.5 995.2L1129.0 994.9L1130.5 995.8L1132.0 994.9L1133.5 994.1L1135.0 993.7L1136.5 992.2L1138.0 993.4L1139.5 992.3L1141.0 992.4L1142.5 992.0L1144.0 992.1L1145.5 992.3L1147.0 991.4L1148.5 991.1L1150.0 989.9L1150.8 990.0L1151.5 990.0L1152.2 988.6L1153.0 990.2L1153.8 988.5L1154.5 988.0L1155.2 989.2L1156.0 989.2L1156.8 987.5L1157.5 987.3L1158.2 989.0L1159.0 987.2L1159.8 985.8L1160.5 986.2L1161.2 987.3L1162.0 986.3L1162.8 986.1L1163.5 986.0L1164.2 985.4L1165.0 984.6L1165.8 983.6L1166.5 984.3L1167.2 983.2L1168.0 983.4L1168.8 983.9L1169.5 983.0L1170.2 982.4L1171.0 982.0L1171.8 982.0L1172.5 981.7L1173.2 980.2L1174.0 980.5L1174.8 980.8L1175.5 979.9L1176.2 978.8L1177.0 978.4L1177.8 977.3L1178.5 977.4L1179.2 978.0L1180.0 976.8L1180.8 975.9L1181.5 975.5L1182.2 975.2L1183.0 974.7L1183.8 974.0L1184.5 973.3L1185.2 973.3L1186.0 973.1L1186.8 971.6L1187.5 971.0L1188.2 971.1L1189.0 969.4L1189.8 969.1L1190.5 968.5L1191.2 968.0L1192.0 967.1L1192.8 966.1L1193.5 965.9L1194.2 964.5L1195.0 963.5L1195.8 962.6L1196.5 962.8L1197.2 961.0L1198.0 960.9L1198.8 960.1L1199.5 959.2L1200.2 957.9L1201.0 956.8L1201.8 956.0L1202.5 954.8L1203.2 953.5L1204.0 953.2L1204.8 951.5L1205.5 951.1L1206.2 949.5L1207.0 948.0L1207.8 947.1L1208.5 946.0L1209.2 944.0L1210.0 942.7L1210.8 941.3L1211.5 940.2L1212.2 938.8L1213.0 937.2L1213.8 935.5L1214.5 933.9L1215.2 932.7L1216.0 931.0L1216.8 929.0L1217.5 926.9L1218.2 925.5L1219.0 923.6L1219.8 921.7L1220.5 920.0L1221.2 917.8L1222.0 915.4L1222.8 913.3L1223.5 911.5L1224.2 909.1L1225.0 907.0L1225.8 904.5L1226.5 902.0L1227.2 899.7L1228.0 897.5L1228.8 894.8L1229.5 892.0L1230.2 889.5L1231.0 886.8L1231.8 884.2L1232.5 881.6L1233.2 879.0L1234.0 875.9L1234.8 873.0L1235.5 870.2L1236.2 867.3L1237.0 864.4L1237.8 861.6L1238.5 858.7L1239.2 855.7L1240.0 853.1L1240.8 850.1L1241.5 847.2L1242.2 844.7L1243.0 841.9L1243.8 839.6L1244.5 836.9L1245.2 834.3L1246.0 831.8L1246.8 829.6L1247.5 827.7L1248.2 825.5L1249.0 823.9L1249.8 821.5L1250.5 820.5L1251.2 819.4L1252.0 818.0L1252.8 816.9L1253.5 816.5L1254.2 815.1L1255.0 814.6L1255.8 815.0L1256.1 815.6L1256.5 815.2L1257.2 815.3L1258.0 816.3L1258.8 817.6L1259.5 818.8L1260.2 820.6L1261.0 823.3L1261.8 825.8L1262.5 828.9L1263.2 832.0L1264.0 835.5L1264.8 839.2L1265.5 842.9L1266.2 846.8L1267.0 850.9L1267.8 854.7L1268.5 858.8L1269.2 863.0L1270.0 866.8L1270.8 870.8L1271.5 875.2L1272.2 879.0L1273.0 882.9L1273.8 886.8L1274.5 890.5L1275.2 894.0L1276.0 897.6L1276.8 901.0L1277.5 904.5L1278.2 907.7L1279.0 910.8L1279.8 914.0L1280.5 917.3L1281.2 919.5L1282.0 922.6L1282.8 925.2L1283.5 927.8L1284.2 929.9L1285.0 932.6L1285.8 934.8L1286.5 936.9L1287.2 938.9L1288.0 941.1L1288.8 943.2L1289.5 945.0L1290.2 947.1L1291.0 948.3L1291.8 950.2L1292.5 951.6L1293.2 953.4L1294.0 954.7L1294.8 956.0L1295.5 957.2L1296.2 958.6L1297.0 960.2L1297.8 961.8L1298.5 962.8L1299.2 963.3L1300.0 964.6L1300.8 965.8L1301.5 966.8L1302.2 967.9L1303.0 969.1L1303.8 969.8L1304.5 970.4L1305.2 970.8L1306.0 972.2L1306.8 972.4L1307.5 973.8L1308.2 974.7L1309.0 974.8L1309.8 976.0L1310.5 976.5L1311.2 978.1L1312.0 978.2L1312.8 977.8L1313.5 979.4L1314.2 979.9L1315.0 980.2L1315.8 980.7L1316.5 981.6L1317.2 982.2L1318.0 982.6L1318.8 982.4L1319.5 983.2L1320.2 983.0L1321.0 983.5L1321.8 984.4L1322.5 984.5L1323.2 985.2L1324.0 987.0L1324.8 986.4L1325.5 986.1L1326.2 985.9L1327.0 986.9L1327.8 986.9L1328.5 986.8L1329.2 988.6L1330.0 988.3L1330.8 989.1L1331.5 990.8L1332.2 989.6L1333.0 989.8L1333.8 990.2L1334.5 990.2L1335.2 990.1L1336.0 990.7L1336.8 991.7L1337.5 991.2L1338.2 990.8L1339.0 991.1L1339.8 991.5L1340.5 992.2L1341.2 992.7L1342.0 992.9L1342.8 993.5L1343.5 993.0L1344.2 993.7L1345.0 993.7L1345.8 994.1L1346.5 992.9L1347.2 994.7L1348.0 993.4L1348.8 993.8L1349.5 995.0L1350.2 994.5L1351.0 995.9L1351.8 995.2L1352.5 994.7L1353.2 995.5L1354.0 995.3L1354.8 996.5L1355.5 996.7L1356.2 996.4L1357.0 995.9L1357.8 996.3L1358.5 996.9L1359.2 996.1L1360.0 996.2L1360.8 997.2L1361.5 997.3L1362.2 996.9L1363.0 997.0L1363.8 996.2L1364.5 998.0L1365.2 997.4L1366.0 996.8L1366.8 997.1L1367.5 997.3L1368.2 998.8L1369.0 998.4L1369.8 997.3L1370.5 999.2L1372.0 999.1L1373.5 998.0L1375.0 997.3L1376.5 999.4L1378.0 998.7L1379.5 999.1L1381.0 999.1L1382.5 1000.2L1384.0 1000.5L1385.5 1000.3L1387.0 999.9L1388.5 1000.2L1390.0 1000.5L1391.5 999.5L1393.0 1001.1L1394.5 1000.4L1396.0 1000.8L1397.5 1000.9L1399.0 1001.4L1400.5 1001.6L1402.0 1002.3L1403.5 1001.0L1405.0 1000.8L1406.5 1001.5L1408.0 1001.1L1409.5 1002.1L1411.0 1001.2L1412.5 1001.8L1414.0 1002.3L1415.5 1002.5L1417.0 1002.1L1418.5 1002.8L1420.0 1002.8L1421.5 1001.3L1423.0 1002.5L1424.5 1002.5L1426.0 1002.3L1427.5 1002.1L1429.0 1002.6L1430.5 1002.8L1432.0 1002.8L1433.5 1003.5L1435.0 1003.3L1436.5 1002.5L1438.0 1002.5L1439.5 1003.4L1441.0 1002.6L1442.5 1003.2L1444.0 1003.4L1445.5 1003.7L1447.0 1003.5L1448.5 1004.1L1450.0 1003.1L1451.5 1003.7L1453.0 1003.1L1454.5 1003.6L1456.0 1003.6L1457.5 1003.0L1459.0 1002.2L1460.5 1004.2L1462.0 1003.9L1463.5 1003.8L1465.0 1003.4L1466.5 1003.6L1468.0 1004.1L1469.5 1003.9L1471.0 1004.5L1472.5 1004.0L1474.0 1003.5L1475.5 1004.3L1477.0 1003.7L1478.5 1004.2L1480.0 1003.1L1481.5 1003.9L1483.0 1004.4L1484.5 1003.8L1486.0 1004.1L1487.5 1004.5L1489.0 1004.2L1490.5 1005.2L1492.0 1004.1L1493.5 1004.1L1495.0 1004.1L1496.5 1003.2L1498.0 1003.4L1499.5 1004.6L1501.0 1004.1L1502.5 1005.1L1504.0 1004.3L1505.5 1004.2L1507.0 1004.9L1508.5 1004.5L1510.0 1005.2L1511.5 1003.8L1513.0 1004.6L1514.5 1004.8L1516.0 1004.7L1517.5 1005.0L1519.0 1005.0L1520.5 1004.5L1522.0 1004.1L1523.5 1005.0L1525.0 1004.5L1526.5 1005.0L1528.0 1005.2L1529.5 1004.6L1531.0 1004.0L1532.5 1004.4L1534.0 1005.0L1535.5 1004.4L1537.0 1005.2L1538.5 1004.6L1540.0 1004.6L1541.5 1004.2L1543.0 1004.5L1544.5 1005.2L1546.0 1004.4L1547.5 1004.4L1549.0 1004.2L1550.5 1005.0L1552.0 1003.8L1553.5 1004.2L1555.0 1005.1L1556.5 1005.4L1558.0 1004.5L1559.5 1005.1L1561.0 1003.5L1562.5 1005.0L1564.0 1004.8L1565.5 1003.9L1567.0 1003.6L1568.5 1004.3L1570.0 1004.8L1571.5 1004.8L1573.0 1004.7L1574.5 1005.0L1576.0 1005.0L1577.5 1003.9L1579.0 1004.4L1580.5 1004.3L1582.0 1005.2L1583.5 1004.4L1585.0 1005.2L1586.5 1004.7L1588.0 1005.9L1589.5 1004.6L1591.0 1004.6L1592.5 1004.6L1594.0 1004.7L1595.5 1006.0L1597.0 1004.4L1598.5 1004.2L1600.0 1004.5L1601.5 1005.0L1603.0 1004.1L1604.5 1005.1L1606.0 1005.0L1607.5 1004.5L1609.0 1004.5L1610.5 1004.1L1612.0 1004.3L1613.5 1003.9L1615.0 1004.8L1616.5 1004.7L1618.0 1003.5L1619.5 1003.4L1621.0 1002.3L1622.5 1003.0L1624.0 1003.4L1625.5 1003.4L1627.0 1003.3L1628.5 1003.7L1630.0 1003.3L1631.5 1003.0L1633.0 1004.1L1634.5 1002.2L1636.0 1002.6L1637.5 1002.8L1639.0 1002.8L1640.5 1002.8L1642.0 1003.1L1643.5 1002.8L1645.0 1003.2L1646.5 1003.5L1648.0 1003.2L1649.5 1003.3L1651.0 1002.7L1652.5 1002.6L1654.0 1003.0L1655.5 1003.7L1657.0 1003.4L1658.5 1003.8L1660.0 1003.7L1661.5 1003.8L1663.0 1002.8L1664.5 1003.9L1666.0 1003.6L1667.5 1004.3L1669.0 1003.5L1670.5 1003.4L1672.0 1003.1L1673.5 1003.3L1675.0 1002.3L1676.5 1003.0L1678.0 1003.2L1679.5 1003.7L1681.0 1002.8L1682.5 1003.3L1684.0 1004.2L1685.5 1002.9L1687.0 1003.6L1688.5 1002.9L1690.0 1003.1L1691.5 1003.4L1693.0 1003.6L1694.5 1002.9L1696.0 1002.6L1697.5 1004.0L1699.0 1003.3L1700.5 1003.6L1702.0 1003.7L1703.5 1003.6L1705.0 1003.0L1706.5 1003.1L1708.0 1002.3L1709.5 1003.2L1711.0 1002.9L1712.5 1003.1L1714.0 1004.2L1715.5 1003.5L1717.0 1003.2L1718.5 1002.4L1720.0 1003.5L1721.5 1003.9L1723.0 1002.7L1724.5 1003.3L1726.0 1002.8L1727.5 1003.0L1729.0 1002.9L1730.5 1002.2L1732.0 1002.8L1733.5 1002.2L1735.0 1003.8L1736.5 1003.7L1738.0 1003.1L1739.5 1003.2L1741.0 1003.1L1742.5 1003.2L1744.0 1003.2L1745.5 1002.9L1747.0 1003.0L1748.5 1002.3L1750.0 1002.5L1751.5 1002.7L1753.0 1003.2L1754.5 1002.9L1756.0 1004.1L1757.5 1002.9L1759.0 1002.9L1760.5 1003.3L1762.0 1003.6L1763.5 1004.0L1765.0 1003.6L1766.5 1002.7L1768.0 1002.9L1769.5 1003.6L1771.0 1003.2L1772.5 1003.4L1774.0 1003.0L1775.5 1003.9L1777.0 1003.8L1778.5 1003.6L1780.0 1003.1L1781.5 1002.1L1783.0 1002.3L1784.5 1003.2L1786.0 1003.3L1787.5 1001.4L1789.0 1002.7L1790.5 1003.6L1792.0 1003.5L1793.5 1002.7L1795.0 1003.3L1796.5 1003.0L1798.0 1002.8L1799.5 1003.6L1801.0 1003.6L1802.5 1002.7L1804.0 1002.4L1805.5 1002.2L1807.0 1002.2L1808.5 1003.7L1810.0 1003.9L1811.5 1003.0L1813.0 1003.5L1814.5 1002.6L1816.0 1002.9L1817.5 1003.4L1819.0 1003.1L1820.5 1002.9L1822.0 1002.0L1823.5 1002.1L1825.0 1002.7L1826.5 1002.6L1828.0 1002.8L1829.5 1002.5L1831.0 1002.8L1832.5 1002.9L1834.0 1003.1L1835.5 1002.9L1837.0 1002.6L1838.5 1002.7L1840.0 1003.3L1841.5 1002.7L1843.0 1002.3L1844.5 1002.3L1846.0 1003.0L1847.5 1003.1L1849.0 1003.5L1850.5 1002.6L1852.0 1003.6L1853.5 1002.6L1855.0 1002.7L1856.5 1002.5L1858.0 1003.1L1859.5 1003.4L1861.0 1002.8L1862.5 1002.5L1864.0 1002.0L1865.5 1002.9L1867.0 1002.6L1868.5 1002.7L1870.0 1002.4L1871.5 1002.3L1873.0 1002.5L1874.5 1003.0L1876.0 1003.2L1877.5 1002.7L1879.0 1002.9L1880.5 1002.6L1882.0 1002.7L1883.5 1002.0L1885.0 1003.2L1886.5 1003.0L1888.0 1003.5L1889.5 1002.4L1891.0 1002.8L1892.5 1002.2L1894.0 1002.8L1895.5 1002.6L1897.0 1003.0L1898.5 1002.6L1900.0 1003.0L1901.5 1002.4L1903.0 1003.0L1904.5 1002.5L1906.0 1002.4L1907.5 1002.7L1909.0 1002.8L1910.5 1001.9L1912.0 1001.8L1913.5 1002.7L1915.0 1002.6L1916.5 1001.5L1918.0 1001.7L1919.5 1002.2L1921.0 1002.8L1922.5 1002.7L1924.0 1003.1L1925.5 1003.2L1927.0 1003.8L1928.5 1001.8L1930.0 1002.5L1931.5 1003.1L1933.0 1001.9L1934.5 1001.8L1936.0 1002.7L1937.5 1003.1L1939.0 1003.2L1940.5 1001.6L1942.0 1001.9L1943.5 1002.4L1945.0 1002.1L1946.5 1002.4L1948.0 1002.1L1949.5 1002.6L1951.0 1001.3L1952.5 1001.0L1954.0 1000.6L1955.5 1000.7L1957.0 999.1L1958.5 999.5L1960.0 998.6L1961.5 998.0L1963.0 999.3L1964.5 998.8L1966.0 999.3L1967.5 998.7L1969.0 998.9L1970.5 998.6L1972.0 998.8L1973.5 998.3L1975.0 999.4L1976.5 998.1L1978.0 999.4L1979.5 998.4L1981.0 999.0L1982.5 998.6L1984.0 998.8L1985.5 999.3L1987.0 998.6L1988.5 998.0L1990.0 998.7L1991.5 998.9L1993.0 997.2L1994.5 999.1L1996.0 999.1L1997.5 997.6L1999.0 998.4L2000.5 999.0L2002.0 997.9L2003.5 998.3L2005.0 998.3L2006.5 998.8L2008.0 999.1L2009.5 998.5L2011.0 998.6L2012.5 999.0L2014.0 998.8L2015.5 998.5L2017.0 999.2L2018.5 997.8L2020.0 998.6L2021.5 998.3L2023.0 998.3L2024.5 998.6L2026.0 998.6L2027.5 999.9L2029.0 998.9L2030.5 998.7L2032.0 999.4L2033.5 999.1L2035.0 997.5L2036.5 998.6L2038.0 998.9L2039.5 998.2L2041.0 998.7L2042.5 998.3L2044.0 998.7L2045.5 997.6L2047.0 997.5L2048.5 998.2L2050.0 998.6L2051.5 999.2L2053.0 998.4L2054.5 998.1L2056.0 999.0L2057.5 998.6L2059.0 999.7L2060.5 998.8L2062.0 998.0L2063.5 998.9L2065.0 999.1L2066.5 999.1L2068.0 999.8L2069.5 1000.1L2071.0 1000.6L2072.5 1000.7L2074.0 1001.4L2075.5 1001.5L2077.0 1001.5L2078.5 1001.5L2080.0 1000.4L2081.5 1000.5L2083.0 1000.9L2084.5 1001.6L2086.0 1000.6L2087.5 1001.2L2089.0 1001.5L2090.5 1002.5L2092.0 1001.6L2093.5 1001.1L2095.0 1002.0L2096.5 1001.5L2098.0 1001.2L2099.5 1002.0L2101.0 1000.9L2102.5 1001.5L2104.0 1001.5L2105.5 1001.9L2107.0 1000.8L2108.5 1000.7L2110.0 1001.2L2111.5 1001.3L2113.0 1001.4L2114.5 1001.2L2116.0 1001.6L2117.5 1001.8L2119.0 1001.5L2120.5 1000.8L2122.0 1002.0L2123.5 1000.6L2125.0 1001.3L2126.5 1001.9L2128.0 1001.1L2129.5 1002.1L2131.0 1002.4L2132.5 1002.3L2134.0 1001.6L2135.5 1001.9L2137.0 1001.1L2138.5 1001.6L2140.0 1001.6L2141.5 1001.4L2143.0 1001.5L2144.5 1001.3L2146.0 1000.3L2147.5 1001.6L2149.0 1001.6L2150.5 1002.5L2152.0 1001.8L2153.5 1001.4L2155.0 1001.9L2156.5 1001.7L2158.0 1001.4L2159.5 1001.2L2161.0 1000.6L2162.5 1001.5L2164.0 1002.3L2165.5 1000.4L2167.0 1000.9L2168.5 1001.8L2170.0 1001.5L2171.5 1001.7L2173.0 1000.6L2174.5 1001.4L2176.0 1002.2L2177.5 1002.5L2179.0 1002.5L2180.5 1002.1L2182.0 1003.1L2183.5 1002.4L2185.0 1002.8L2186.5 1002.9L2188.0 1004.6L2189.5 1003.8L2191.0 1004.3L2192.5 1003.3L2194.0 1005.4L2195.5 1005.3L2197.0 1004.3L2198.5 1004.6L2200.0 1006.5L2201.5 1005.2L2203.0 1006.8L2204.5 1005.6L2206.0 1004.5L2207.5 1006.5L2209.0 1006.2L2210.5 1006.3L2212.0 1005.6L2213.5 1005.8L2215.0 1006.4L2216.5 1005.4L2218.0 1004.8L2219.5 1006.4L2221.0 1005.6L2222.5 1006.6L2224.0 1005.6L2225.5 1005.7L2227.0 1005.8L2228.5 1004.6L2230.0 1006.5L2231.5 1005.5L2233.0 1005.8L2234.5 1006.7L2236.0 1006.0L2237.5 1006.4L2239.0 1006.1L2240.5 1006.3L2242.0 1006.0L2243.5 1006.5L2245.0 1005.8L2246.5 1006.1L2248.0 1005.5L2249.5 1006.5L2251.0 1004.7L2252.5 1006.0L2254.0 1006.1L2255.5 1006.1L2257.0 1005.9L2258.5 1006.6L2260.0 1007.1L2261.5 1005.6L2263.0 1004.8L2264.5 1005.3L2266.0 1005.4L2267.5 1005.8L2269.0 1005.9L2270.5 1006.5L2272.0 1005.7L2273.5 1005.9L2275.0 1006.0L2276.5 1005.4L2278.0 1005.7L2279.5 1007.4L2281.0 1005.8L2282.5 1005.4L2284.0 1004.7L2285.5 1006.5L2287.0 1005.7L2288.5 1005.5L2290.0 1007.2L2291.5 1006.7L2293.0 1005.0L2294.5 1005.7L2296.0 1006.4L2297.5 1006.4L2299.0 1005.3L2300.5 1006.9L2302.0 1006.9L2303.5 1005.3L2305.0 1004.9L2306.5 1005.1L2308.0 1006.3L2309.5 1006.5L2311.0 1006.0L2312.5 1005.6L2314.0 1005.8L2315.5 1006.2L2317.0 1005.2L2318.5 1005.0L2320.0 1005.8L2321.5 1006.6L2323.0 1006.0L2324.5 1006.0L2326.0 1005.5L2327.5 1006.4L2329.0 1004.9L2330.5 1005.9L2332.0 1005.6L2333.5 1005.8" fill="none" stroke="#b8181c" stroke-width="7.2" stroke-linejoin="round" stroke-linecap="butt"/>
<path d="M208.0 1334.1L209.5 1335.3L211.0 1328.4L212.5 1332.3L214.0 1334.2L215.5 1334.8L217.0 1333.7L218.5 1335.1L220.0 1333.2L221.5 1333.7L223.0 1333.1L224.5 1331.2L226.0 1331.6L227.5 1333.6L229.0 1332.1L230.5 1335.2L232.0 1335.3L233.5 1336.2L235.0 1333.3L236.5 1335.6L238.0 1332.1L239.5 1332.3L241.0 1333.8L242.5 1334.2L244.0 1331.2L245.5 1331.1L247.0 1334.5L248.5 1332.6L250.0 1336.0L251.5 1334.8L253.0 1334.7L254.5 1334.6L256.0 1335.8L257.5 1334.1L259.0 1336.1L260.5 1333.6L262.0 1334.0L263.5 1333.3L265.0 1335.4L266.5 1334.5L268.0 1333.0L269.5 1337.6L271.0 1333.8L272.5 1334.2L274.0 1335.0L275.5 1337.2L277.0 1334.2L278.5 1335.5L280.0 1334.6L281.5 1332.1L283.0 1335.7L284.5 1336.0L286.0 1334.0L287.5 1334.4L289.0 1332.0L290.5 1332.0L292.0 1333.8L293.5 1335.4L295.0 1333.6L296.5 1334.9L298.0 1335.9L299.5 1334.6L301.0 1335.3L302.5 1336.7L304.0 1332.4L305.5 1335.6L307.0 1331.4L308.5 1335.1L310.0 1334.7L311.5 1333.5L313.0 1332.7L314.5 1334.3L316.0 1333.7L317.5 1334.6L319.0 1332.9L320.5 1335.3L322.0 1332.7L323.5 1333.9L325.0 1333.8L326.5 1336.4L328.0 1332.0L329.5 1333.7L331.0 1336.3L332.5 1333.3L334.0 1332.4L335.5 1334.9L337.0 1333.9L338.5 1335.7L340.0 1332.9L341.5 1334.7L343.0 1335.4L344.5 1335.9L346.0 1332.5L347.5 1336.5L349.0 1332.7L350.5 1331.7L352.0 1332.5L353.5 1334.2L355.0 1333.4L356.5 1334.6L358.0 1334.6L359.5 1334.3L361.0 1333.3L362.5 1336.6L364.0 1330.1L365.5 1330.8L367.0 1332.7L368.5 1331.5L370.0 1329.3L371.5 1332.1L373.0 1332.1L374.5 1329.3L376.0 1334.6L377.5 1335.2L379.0 1335.1L380.5 1332.2L382.0 1333.2L383.5 1331.2L385.0 1333.2L386.5 1331.8L388.0 1333.5L389.5 1332.2L391.0 1334.3L392.5 1334.0L394.0 1334.6L395.5 1330.0L397.0 1329.6L398.5 1333.1L400.0 1331.5L401.5 1333.0L403.0 1332.8L404.5 1332.5L406.0 1333.7L407.5 1333.0L409.0 1332.8L410.5 1330.6L412.0 1334.7L413.5 1332.1L415.0 1333.6L416.5 1332.3L418.0 1333.8L419.5 1332.0L421.0 1332.0L422.5 1331.8L424.0 1330.4L425.5 1330.6L427.0 1331.2L428.5 1331.2L430.0 1329.8L431.5 1335.1L433.0 1329.7L434.5 1330.8L436.0 1335.1L437.5 1330.1L439.0 1332.4L440.5 1332.2L442.0 1330.7L443.5 1328.7L445.0 1328.5L446.5 1330.9L448.0 1331.6L449.5 1327.4L451.0 1331.1L452.5 1329.7L454.0 1332.2L455.5 1331.0L457.0 1329.4L458.5 1330.0L460.0 1330.7L461.5 1332.7L463.0 1335.4L464.5 1331.1L466.0 1330.6L467.5 1331.5L469.0 1330.4L470.5 1331.4L472.0 1331.0L473.5 1330.4L475.0 1329.1L476.5 1330.5L478.0 1331.7L479.5 1330.3L481.0 1332.6L482.5 1331.6L484.0 1329.8L485.5 1332.6L487.0 1327.9L488.5 1331.5L490.0 1332.5L491.5 1329.0L493.0 1329.1L494.5 1330.6L496.0 1331.3L497.5 1329.6L499.0 1329.2L500.5 1330.2L502.0 1329.0L503.5 1326.6L505.0 1328.2L506.5 1328.4L508.0 1325.9L509.5 1328.9L511.0 1327.0L512.5 1329.3L514.0 1325.7L515.5 1326.5L517.0 1325.6L518.5 1329.9L520.0 1329.8L521.5 1330.1L523.0 1330.0L524.5 1329.1L526.0 1329.0L527.5 1324.8L529.0 1327.9L530.5 1326.5L532.0 1326.7L533.5 1325.2L535.0 1329.1L536.5 1327.2L538.0 1324.4L539.5 1327.4L541.0 1326.3L542.5 1324.6L544.0 1325.7L545.5 1324.7L547.0 1322.1L548.5 1323.2L550.0 1326.3L551.5 1325.8L553.0 1325.5L554.5 1323.0L556.0 1323.5L557.5 1324.2L559.0 1324.7L560.5 1321.8L562.0 1321.0L563.5 1323.7L565.0 1321.5L566.5 1320.2L568.0 1319.1L569.5 1318.6L571.0 1321.1L572.5 1319.5L574.0 1316.8L575.5 1314.8L577.0 1318.1L578.5 1317.0L580.0 1315.6L581.5 1314.2L583.0 1309.5L584.5 1309.5L586.0 1311.7L587.5 1309.9L589.0 1310.4L590.5 1309.0L592.0 1308.7L593.5 1310.5L595.0 1309.0L596.5 1309.6L598.0 1310.0L599.5 1310.0L601.0 1311.5L602.5 1311.8L604.0 1307.5L605.5 1309.2L607.0 1308.6L608.5 1310.9L610.0 1308.0L611.5 1310.9L613.0 1310.8L614.5 1310.6L616.0 1308.2L617.5 1309.4L619.0 1308.0L620.5 1310.4L622.0 1311.3L623.5 1307.3L625.0 1308.4L626.5 1309.5L628.0 1308.9L629.5 1312.2L631.0 1309.6L632.5 1310.2L634.0 1308.1L635.5 1312.3L637.0 1310.2L638.5 1311.3L640.0 1310.2L641.5 1306.8L643.0 1307.7L644.5 1308.3L646.0 1311.2L647.5 1309.7L649.0 1311.3L650.5 1311.2L652.0 1311.2L653.5 1312.4L655.0 1311.3L656.5 1308.5L658.0 1310.1L659.5 1313.9L661.0 1309.6L662.5 1313.5L664.0 1314.0L665.5 1310.4L667.0 1312.0L668.5 1309.2L670.0 1312.7L671.5 1310.2L673.0 1309.4L674.5 1310.9L676.0 1310.8L677.5 1310.6L679.0 1311.9L680.5 1311.4L682.0 1310.6L683.5 1313.2L685.0 1315.6L686.5 1311.8L688.0 1310.6L689.5 1310.2L691.0 1312.7L692.5 1311.4L694.0 1311.9L695.5 1308.7L697.0 1310.1L698.5 1310.1L700.0 1313.5L701.5 1311.6L703.0 1308.1L704.5 1312.9L706.0 1314.1L707.5 1314.5L709.0 1308.1L710.5 1312.9L712.0 1314.1L713.5 1313.9L715.0 1312.7L716.5 1310.4L718.0 1312.7L719.5 1313.0L721.0 1314.5L722.5 1314.8L724.0 1313.4L725.5 1315.2L727.0 1312.2L728.5 1312.8L730.0 1313.8L731.5 1314.8L733.0 1313.3L734.5 1315.8L736.0 1314.4L737.5 1312.2L739.0 1313.9L740.5 1312.3L742.0 1312.1L743.5 1311.3L745.0 1315.8L746.5 1315.0L748.0 1311.0L749.5 1315.3L751.0 1315.0L752.5 1312.8L754.0 1314.1L755.5 1316.8L757.0 1313.6L758.5 1313.7L760.0 1314.8L761.5 1311.2L763.0 1310.8L764.5 1310.5L766.0 1312.5L767.5 1314.0L769.0 1311.1L770.5 1310.2L772.0 1312.7L773.5 1311.7L775.0 1313.2L776.5 1311.9L778.0 1311.8L779.5 1311.9L781.0 1312.0L782.5 1310.3L784.0 1310.0L785.5 1314.2L787.0 1316.5L788.5 1313.3L790.0 1308.8L791.5 1311.4L793.0 1313.2L794.5 1308.6L796.0 1310.3L797.5 1310.4L799.0 1309.5L800.5 1309.5L802.0 1312.4L803.5 1310.0L805.0 1310.3L806.5 1313.4L808.0 1309.3L809.5 1307.5L811.0 1311.6L812.5 1313.8L814.0 1310.9L815.5 1311.1L817.0 1308.5L818.5 1309.1L820.0 1312.9L821.5 1312.6L823.0 1311.5L824.5 1309.6L826.0 1308.7L827.5 1308.9L829.0 1308.7L830.5 1311.6L832.0 1309.3L833.5 1309.8L835.0 1311.7L836.5 1311.6L838.0 1310.6L839.5 1311.3L841.0 1310.5L842.5 1307.4L844.0 1310.4L845.5 1309.8L847.0 1309.9L848.5 1310.9L850.0 1309.6L851.5 1312.5L853.0 1310.2L854.5 1310.8L856.0 1311.0L857.5 1310.2L859.0 1311.6L860.5 1311.8L862.0 1311.6L863.5 1309.6L865.0 1309.5L866.5 1310.2L868.0 1311.4L869.5 1308.6L871.0 1310.5L872.5 1310.3L874.0 1311.3L875.5 1311.2L877.0 1314.2L878.5 1313.8L880.0 1314.9L881.5 1312.1L883.0 1312.7L884.5 1313.7L886.0 1317.0L887.5 1317.3L889.0 1313.9L890.5 1316.0L892.0 1318.6L893.5 1313.6L895.0 1315.0L896.5 1317.4L898.0 1316.5L899.5 1313.7L901.0 1317.7L902.5 1316.9L904.0 1316.4L905.5 1313.3L907.0 1315.0L908.5 1317.4L910.0 1316.1L911.5 1316.6L913.0 1314.9L914.5 1317.7L916.0 1314.9L917.5 1316.8L919.0 1315.8L920.5 1313.8L922.0 1317.7L923.5 1313.3L925.0 1314.1L926.5 1315.5L928.0 1313.1L929.5 1312.4L931.0 1315.1L932.5 1314.6L934.0 1314.9L935.5 1316.1L937.0 1318.9L938.5 1314.6L940.0 1319.2L941.5 1315.7L943.0 1315.1L944.5 1310.9L946.0 1312.8L947.5 1315.5L949.0 1315.9L950.5 1313.6L952.0 1315.3L953.5 1316.1L955.0 1313.6L956.5 1311.8L958.0 1312.6L959.5 1313.6L961.0 1314.4L962.5 1315.0L964.0 1312.1L965.5 1313.5L967.0 1312.9L968.5 1313.2L970.0 1314.8L971.5 1315.0L973.0 1312.0L974.5 1311.7L976.0 1311.5L977.5 1311.7L979.0 1311.8L980.5 1312.2L982.0 1311.7L983.5 1310.8L985.0 1310.6L986.5 1312.6L988.0 1316.4L989.5 1313.4L991.0 1313.6L992.5 1313.1L994.0 1312.3L995.5 1315.7L997.0 1312.0L998.5 1311.0L1000.0 1310.6L1001.5 1312.8L1003.0 1310.9L1004.5 1311.1L1006.0 1311.2L1007.5 1310.4L1009.0 1312.8L1010.5 1309.9L1012.0 1316.2L1013.5 1308.1L1015.0 1310.3L1016.5 1312.6L1018.0 1313.2L1019.5 1312.0L1021.0 1313.0L1022.5 1312.8L1024.0 1312.7L1025.5 1313.5L1027.0 1312.9L1028.5 1312.4L1030.0 1312.3L1031.5 1314.0L1033.0 1312.4L1034.5 1313.7L1036.0 1315.4L1037.5 1313.6L1039.0 1315.1L1040.5 1312.6L1042.0 1313.9L1043.5 1314.4L1045.0 1314.1L1046.5 1314.6L1048.0 1316.2L1049.5 1313.6L1051.0 1313.2L1052.5 1314.9L1054.0 1312.2L1055.5 1314.6L1057.0 1316.6L1058.5 1314.8L1060.0 1315.7L1061.5 1315.5L1063.0 1316.8L1064.5 1315.7L1066.0 1315.2L1067.5 1309.5L1069.0 1313.9L1070.5 1315.8L1072.0 1314.4L1073.5 1313.4L1075.0 1316.0L1076.5 1313.1L1078.0 1313.9L1079.5 1315.4L1081.0 1313.4L1082.5 1314.5L1084.0 1314.1L1085.5 1312.1L1087.0 1313.1L1088.5 1313.3L1090.0 1312.8L1091.5 1315.4L1093.0 1313.6L1094.5 1312.5L1096.0 1311.2L1097.5 1312.8L1099.0 1315.3L1100.5 1312.6L1102.0 1314.2L1103.5 1313.6L1105.0 1311.9L1106.5 1311.1L1108.0 1313.4L1109.5 1309.7L1111.0 1313.1L1112.5 1310.2L1114.0 1313.3L1115.5 1311.2L1117.0 1311.5L1118.5 1313.1L1120.0 1309.7L1121.5 1311.2L1123.0 1310.4L1124.5 1311.5L1126.0 1311.6L1127.5 1310.7L1129.0 1310.4L1130.5 1309.2L1132.0 1310.5L1133.5 1309.0L1135.0 1309.3L1136.5 1309.1L1138.0 1306.4L1139.5 1306.4L1141.0 1308.2L1142.5 1307.5L1144.0 1309.2L1145.5 1303.1L1147.0 1306.8L1148.5 1307.8L1150.0 1305.8L1150.8 1306.7L1151.5 1305.3L1152.2 1304.9L1153.0 1306.2L1153.8 1302.6L1154.5 1300.9L1155.2 1304.8L1156.0 1304.0L1156.8 1303.7L1157.5 1303.7L1158.2 1304.0L1159.0 1302.1L1159.8 1303.2L1160.5 1302.7L1161.2 1300.2L1162.0 1301.4L1162.8 1301.7L1163.5 1299.8L1164.2 1302.2L1165.0 1299.9L1165.8 1301.2L1166.5 1301.8L1167.2 1297.2L1168.0 1297.1L1168.8 1299.4L1169.5 1297.9L1170.2 1298.5L1171.0 1299.8L1171.8 1296.3L1172.5 1297.8L1173.2 1295.8L1174.0 1294.8L1174.8 1295.9L1175.5 1295.1L1176.2 1295.8L1177.0 1294.2L1177.8 1294.5L1178.5 1293.5L1179.2 1290.1L1180.0 1291.3L1180.8 1290.8L1181.5 1291.7L1182.2 1288.7L1183.0 1289.7L1183.8 1288.3L1184.5 1286.0L1185.2 1287.3L1186.0 1287.6L1186.8 1285.7L1187.5 1286.5L1188.2 1285.2L1189.0 1284.3L1189.8 1282.7L1190.5 1282.3L1191.2 1282.1L1192.0 1280.8L1192.8 1278.7L1193.5 1278.9L1194.2 1278.6L1195.0 1278.4L1195.8 1277.1L1196.5 1274.4L1197.2 1275.0L1198.0 1271.8L1198.8 1271.6L1199.5 1270.4L1200.2 1271.4L1201.0 1269.5L1201.8 1268.0L1202.5 1266.0L1203.2 1266.2L1204.0 1263.8L1204.8 1263.0L1205.5 1262.1L1206.2 1259.7L1207.0 1258.9L1207.8 1255.6L1208.5 1255.9L1209.2 1252.8L1210.0 1252.6L1210.8 1250.9L1211.5 1249.3L1212.2 1248.8L1213.0 1244.0L1213.8 1244.0L1214.5 1241.6L1215.2 1240.4L1216.0 1238.2L1216.8 1236.1L1217.5 1233.7L1218.2 1231.5L1219.0 1229.9L1219.8 1226.7L1220.5 1225.8L1221.2 1222.7L1222.0 1220.8L1222.8 1217.6L1223.5 1216.0L1224.2 1213.1L1225.0 1211.0L1225.8 1208.6L1226.5 1205.2L1227.2 1202.8L1228.0 1200.2L1228.8 1197.9L1229.5 1194.0L1230.2 1191.9L1231.0 1188.8L1231.8 1185.4L1232.5 1182.9L1233.2 1179.8L1234.0 1177.6L1234.8 1173.8L1235.5 1171.6L1236.2 1168.1L1237.0 1165.6L1237.8 1161.7L1238.5 1159.2L1239.2 1156.8L1240.0 1153.6L1240.8 1150.6L1241.5 1148.7L1242.2 1146.5L1243.0 1143.8L1243.8 1141.5L1244.5 1139.7L1245.2 1137.4L1246.0 1136.5L1246.8 1135.2L1247.5 1132.0L1248.2 1133.0L1249.0 1131.9L1249.8 1130.8L1250.5 1130.8L1251.2 1131.6L1252.0 1132.2L1252.8 1131.7L1253.5 1128.6L1254.2 1131.1L1255.0 1126.3L1255.8 1130.4L1256.5 1130.1L1256.5 1130.6L1257.2 1127.6L1258.0 1131.4L1258.8 1131.1L1259.5 1129.6L1260.2 1127.4L1261.0 1130.3L1261.8 1129.6L1262.5 1130.1L1263.2 1132.2L1264.0 1135.8L1264.8 1135.7L1265.5 1138.8L1266.2 1141.9L1267.0 1145.4L1267.8 1148.4L1268.5 1152.4L1269.2 1157.1L1270.0 1161.3L1270.8 1166.1L1271.5 1170.1L1272.2 1175.1L1273.0 1180.1L1273.8 1184.5L1274.5 1188.8L1275.2 1193.7L1276.0 1197.6L1276.8 1202.3L1277.5 1207.0L1278.2 1211.1L1279.0 1215.0L1279.8 1218.9L1280.5 1221.9L1281.2 1225.8L1282.0 1229.8L1282.8 1233.6L1283.5 1236.2L1284.2 1238.7L1285.0 1241.6L1285.8 1245.4L1286.5 1248.1L1287.2 1249.7L1288.0 1252.8L1288.8 1255.8L1289.5 1258.1L1290.2 1259.4L1291.0 1261.7L1291.8 1264.1L1292.5 1265.1L1293.2 1266.7L1294.0 1269.0L1294.8 1271.9L1295.5 1273.5L1296.2 1274.7L1297.0 1275.1L1297.8 1275.9L1298.5 1278.0L1299.2 1280.2L1300.0 1282.3L1300.8 1281.9L1301.5 1283.9L1302.2 1283.4L1303.0 1284.2L1303.8 1287.2L1304.5 1287.1L1305.2 1288.2L1306.0 1287.9L1306.8 1291.9L1307.5 1290.0L1308.2 1292.8L1309.0 1291.9L1309.8 1293.9L1310.5 1296.6L1311.2 1296.1L1312.0 1296.7L1312.8 1298.3L1313.5 1298.5L1314.2 1300.2L1315.0 1297.3L1315.8 1301.5L1316.5 1300.4L1317.2 1299.6L1318.0 1302.2L1318.8 1302.7L1319.5 1302.5L1320.2 1304.1L1321.0 1301.7L1321.8 1301.6L1322.5 1303.5L1323.2 1306.3L1324.0 1306.0L1324.8 1305.6L1325.5 1305.1L1326.2 1306.4L1327.0 1308.5L1327.8 1306.4L1328.5 1306.7L1329.2 1308.5L1330.0 1309.1L1330.8 1308.7L1331.5 1311.0L1332.2 1309.5L1333.0 1308.0L1333.8 1306.5L1334.5 1311.8L1335.2 1310.1L1336.0 1311.1L1336.8 1311.5L1337.5 1313.2L1338.2 1312.9L1339.0 1313.1L1339.8 1312.3L1340.5 1311.7L1341.2 1312.7L1342.0 1311.3L1342.8 1313.3L1343.5 1314.6L1344.2 1314.3L1345.0 1313.6L1345.8 1312.2L1346.5 1312.4L1347.2 1312.8L1348.0 1313.5L1348.8 1315.0L1349.5 1315.2L1350.2 1315.5L1351.0 1316.4L1351.8 1313.4L1352.5 1314.8L1353.2 1316.1L1354.0 1316.6L1354.8 1314.5L1355.5 1314.6L1356.2 1317.6L1357.0 1317.0L1357.8 1316.8L1358.5 1315.8L1359.2 1314.8L1360.0 1316.4L1360.8 1317.1L1361.5 1317.5L1362.2 1318.2L1363.0 1317.1L1363.8 1319.0L1364.5 1316.6L1365.2 1317.8L1366.0 1317.5L1366.8 1314.7L1367.5 1315.5L1368.2 1316.9L1369.0 1318.0L1369.8 1318.4L1370.5 1320.0L1372.0 1318.1L1373.5 1317.8L1375.0 1319.0L1376.5 1316.7L1378.0 1318.5L1379.5 1317.4L1381.0 1319.2L1382.5 1318.2L1384.0 1318.8L1385.5 1322.6L1387.0 1321.4L1388.5 1323.8L1390.0 1320.2L1391.5 1319.8L1393.0 1318.9L1394.5 1320.2L1396.0 1317.6L1397.5 1320.7L1399.0 1319.7L1400.5 1318.6L1402.0 1318.0L1403.5 1319.5L1405.0 1320.4L1406.5 1321.0L1408.0 1318.6L1409.5 1321.2L1411.0 1321.9L1412.5 1325.0L1414.0 1322.1L1415.5 1323.1L1417.0 1320.6L1418.5 1321.8L1420.0 1320.7L1421.5 1320.6L1423.0 1322.8L1424.5 1321.7L1426.0 1324.5L1427.5 1322.2L1429.0 1323.0L1430.5 1320.4L1432.0 1320.8L1433.5 1323.6L1435.0 1321.5L1436.5 1324.7L1438.0 1321.4L1439.5 1321.3L1441.0 1325.9L1442.5 1320.2L1444.0 1322.1L1445.5 1323.8L1447.0 1324.0L1448.5 1321.3L1450.0 1326.6L1451.5 1322.5L1453.0 1320.2L1454.5 1324.8L1456.0 1322.6L1457.5 1323.5L1459.0 1324.7L1460.5 1322.1L1462.0 1322.4L1463.5 1323.5L1465.0 1325.0L1466.5 1321.6L1468.0 1326.1L1469.5 1324.4L1471.0 1322.1L1472.5 1324.0L1474.0 1324.9L1475.5 1326.0L1477.0 1325.5L1478.5 1326.0L1480.0 1324.1L1481.5 1325.6L1483.0 1320.3L1484.5 1326.2L1486.0 1324.7L1487.5 1327.4L1489.0 1324.0L1490.5 1324.3L1492.0 1325.3L1493.5 1326.6L1495.0 1325.9L1496.5 1327.2L1498.0 1325.7L1499.5 1327.4L1501.0 1330.3L1502.5 1327.9L1504.0 1327.1L1505.5 1323.8L1507.0 1327.3L1508.5 1328.1L1510.0 1326.2L1511.5 1328.3L1513.0 1323.2L1514.5 1325.7L1516.0 1325.4L1517.5 1327.9L1519.0 1325.8L1520.5 1325.7L1522.0 1329.7L1523.5 1325.1L1525.0 1328.3L1526.5 1329.4L1528.0 1327.3L1529.5 1326.4L1531.0 1327.6L1532.5 1327.0L1534.0 1326.7L1535.5 1328.4L1537.0 1328.0L1538.5 1333.1L1540.0 1330.1L1541.5 1328.4L1543.0 1329.0L1544.5 1330.8L1546.0 1330.0L1547.5 1328.2L1549.0 1326.9L1550.5 1331.0L1552.0 1328.2L1553.5 1328.6L1555.0 1330.4L1556.5 1328.5L1558.0 1330.3L1559.5 1327.8L1561.0 1328.5L1562.5 1327.9L1564.0 1331.6L1565.5 1325.9L1567.0 1327.9L1568.5 1326.8L1570.0 1327.1L1571.5 1326.2L1573.0 1326.9L1574.5 1330.2L1576.0 1330.6L1577.5 1327.2L1579.0 1326.3L1580.5 1327.5L1582.0 1330.9L1583.5 1328.1L1585.0 1324.9L1586.5 1329.6L1588.0 1328.1L1589.5 1329.3L1591.0 1328.9L1592.5 1326.2L1594.0 1329.9L1595.5 1329.3L1597.0 1327.2L1598.5 1324.6L1600.0 1326.4L1601.5 1326.4L1603.0 1329.3L1604.5 1327.3L1606.0 1327.5L1607.5 1328.2L1609.0 1327.5L1610.5 1328.8L1612.0 1328.7L1613.5 1329.7L1615.0 1326.2L1616.5 1328.7L1618.0 1327.7L1619.5 1331.5L1621.0 1330.5L1622.5 1327.5L1624.0 1329.7L1625.5 1325.3L1627.0 1326.5L1628.5 1327.7L1630.0 1328.6L1631.5 1326.4L1633.0 1328.2L1634.5 1330.1L1636.0 1325.6L1637.5 1326.0L1639.0 1325.1L1640.5 1330.0L1642.0 1326.4L1643.5 1327.5L1645.0 1326.7L1646.5 1328.0L1648.0 1327.6L1649.5 1328.4L1651.0 1328.4L1652.5 1330.6L1654.0 1326.6L1655.5 1328.4L1657.0 1327.9L1658.5 1326.6L1660.0 1329.4L1661.5 1331.0L1663.0 1326.3L1664.5 1331.9L1666.0 1327.8L1667.5 1327.9L1669.0 1323.8L1670.5 1328.1L1672.0 1327.8L1673.5 1327.6L1675.0 1329.1L1676.5 1327.7L1678.0 1328.6L1679.5 1326.9L1681.0 1326.2L1682.5 1328.1L1684.0 1328.9L1685.5 1329.1L1687.0 1328.1L1688.5 1326.8L1690.0 1328.0L1691.5 1327.5L1693.0 1325.9L1694.5 1328.5L1696.0 1327.6L1697.5 1326.2L1699.0 1327.4L1700.5 1328.9L1702.0 1330.3L1703.5 1325.0L1705.0 1327.3L1706.5 1328.8L1708.0 1329.8L1709.5 1328.5L1711.0 1326.3L1712.5 1327.1L1714.0 1327.8L1715.5 1326.6L1717.0 1326.2L1718.5 1325.8L1720.0 1332.0L1721.5 1327.9L1723.0 1327.5L1724.5 1329.0L1726.0 1327.9L1727.5 1327.6L1729.0 1328.2L1730.5 1326.6L1732.0 1327.2L1733.5 1329.3L1735.0 1328.8L1736.5 1326.1L1738.0 1330.3L1739.5 1327.2L1741.0 1325.3L1742.5 1329.0L1744.0 1328.9L1745.5 1328.4L1747.0 1326.3L1748.5 1329.8L1750.0 1328.7L1751.5 1328.4L1753.0 1328.2L1754.5 1328.4L1756.0 1331.4L1757.5 1327.0L1759.0 1328.3L1760.5 1329.6L1762.0 1329.1L1763.5 1326.6L1765.0 1327.7L1766.5 1327.2L1768.0 1325.5L1769.5 1327.5L1771.0 1329.4L1772.5 1328.3L1774.0 1329.6L1775.5 1328.5L1777.0 1326.7L1778.5 1328.7L1780.0 1325.0L1781.5 1329.8L1783.0 1327.2L1784.5 1330.4L1786.0 1325.6L1787.5 1326.2L1789.0 1327.0L1790.5 1327.3L1792.0 1325.2L1793.5 1325.7L1795.0 1328.5L1796.5 1326.4L1798.0 1329.1L1799.5 1330.3L1801.0 1325.3L1802.5 1327.0L1804.0 1330.4L1805.5 1329.4L1807.0 1325.5L1808.5 1328.2L1810.0 1330.3L1811.5 1324.2L1813.0 1328.2L1814.5 1329.4L1816.0 1326.8L1817.5 1326.6L1819.0 1328.8L1820.5 1325.1L1822.0 1328.5L1823.5 1329.6L1825.0 1327.8L1826.5 1325.1L1828.0 1330.1L1829.5 1327.5L1831.0 1328.5L1832.5 1326.2L1834.0 1327.4L1835.5 1329.3L1837.0 1325.1L1838.5 1325.4L1840.0 1324.2L1841.5 1328.2L1843.0 1328.2L1844.5 1326.1L1846.0 1328.0L1847.5 1327.5L1849.0 1330.6L1850.5 1325.6L1852.0 1327.9L1853.5 1326.8L1855.0 1330.4L1856.5 1328.2L1858.0 1325.6L1859.5 1328.2L1861.0 1327.2L1862.5 1326.0L1864.0 1328.1L1865.5 1327.7L1867.0 1325.6L1868.5 1326.7L1870.0 1329.3L1871.5 1329.1L1873.0 1327.3L1874.5 1326.9L1876.0 1327.9L1877.5 1327.3L1879.0 1325.5L1880.5 1328.5L1882.0 1326.2L1883.5 1329.8L1885.0 1328.4L1886.5 1328.7L1888.0 1327.0L1889.5 1327.8L1891.0 1326.6L1892.5 1326.9L1894.0 1325.9L1895.5 1329.8L1897.0 1325.7L1898.5 1330.2L1900.0 1328.7L1901.5 1326.1L1903.0 1329.7L1904.5 1328.2L1906.0 1326.3L1907.5 1328.0L1909.0 1327.0L1910.5 1326.3L1912.0 1327.5L1913.5 1328.0L1915.0 1327.0L1916.5 1327.5L1918.0 1328.8L1919.5 1327.4L1921.0 1327.0L1922.5 1325.5L1924.0 1327.5L1925.5 1326.8L1927.0 1327.2L1928.5 1328.9L1930.0 1329.0L1931.5 1327.7L1933.0 1326.7L1934.5 1327.8L1936.0 1328.1L1937.5 1328.0L1939.0 1325.3L1940.5 1328.1L1942.0 1326.0L1943.5 1328.1L1945.0 1328.2L1946.5 1327.7L1948.0 1329.3L1949.5 1327.3L1951.0 1327.6L1952.5 1325.5L1954.0 1326.6L1955.5 1326.2L1957.0 1326.5L1958.5 1325.9L1960.0 1322.2L1961.5 1327.1L1963.0 1326.7L1964.5 1322.1L1966.0 1325.7L1967.5 1326.7L1969.0 1326.0L1970.5 1325.8L1972.0 1324.2L1973.5 1323.5L1975.0 1327.3L1976.5 1324.8L1978.0 1326.7L1979.5 1323.9L1981.0 1325.5L1982.5 1325.3L1984.0 1325.3L1985.5 1322.1L1987.0 1327.8L1988.5 1324.5L1990.0 1323.5L1991.5 1324.5L1993.0 1321.2L1994.5 1326.3L1996.0 1323.4L1997.5 1324.5L1999.0 1324.4L2000.5 1321.3L2002.0 1323.6L2003.5 1326.1L2005.0 1322.8L2006.5 1324.5L2008.0 1325.7L2009.5 1326.6L2011.0 1322.8L2012.5 1325.8L2014.0 1325.2L2015.5 1325.0L2017.0 1325.7L2018.5 1325.3L2020.0 1322.6L2021.5 1324.9L2023.0 1323.2L2024.5 1324.7L2026.0 1323.5L2027.5 1326.5L2029.0 1325.6L2030.5 1324.9L2032.0 1323.1L2033.5 1324.8L2035.0 1322.4L2036.5 1322.8L2038.0 1321.5L2039.5 1325.5L2041.0 1323.4L2042.5 1325.6L2044.0 1326.0L2045.5 1325.8L2047.0 1323.5L2048.5 1326.5L2050.0 1326.0L2051.5 1322.2L2053.0 1324.8L2054.5 1322.9L2056.0 1324.0L2057.5 1326.1L2059.0 1324.7L2060.5 1326.7L2062.0 1325.2L2063.5 1325.4L2065.0 1326.8L2066.5 1326.2L2068.0 1325.5L2069.5 1326.4L2071.0 1326.1L2072.5 1322.0L2074.0 1322.6L2075.5 1324.3L2077.0 1325.9L2078.5 1323.0L2080.0 1321.5L2081.5 1324.1L2083.0 1323.2L2084.5 1326.5L2086.0 1320.4L2087.5 1325.5L2089.0 1325.3L2090.5 1320.2L2092.0 1322.9L2093.5 1324.3L2095.0 1325.5L2096.5 1325.1L2098.0 1326.3L2099.5 1325.8L2101.0 1324.4L2102.5 1328.5L2104.0 1326.5L2105.5 1324.9L2107.0 1327.2L2108.5 1326.4L2110.0 1326.2L2111.5 1326.0L2113.0 1324.8L2114.5 1325.9L2116.0 1325.5L2117.5 1324.4L2119.0 1328.4L2120.5 1328.2L2122.0 1327.4L2123.5 1325.9L2125.0 1326.5L2126.5 1330.2L2128.0 1326.3L2129.5 1329.1L2131.0 1328.3L2132.5 1328.5L2134.0 1327.0L2135.5 1327.3L2137.0 1327.6L2138.5 1326.0L2140.0 1329.9L2141.5 1326.4L2143.0 1328.0L2144.5 1330.5L2146.0 1330.1L2147.5 1326.8L2149.0 1328.5L2150.5 1329.3L2152.0 1324.6L2153.5 1331.0L2155.0 1328.6L2156.5 1327.3L2158.0 1327.6L2159.5 1324.1L2161.0 1328.8L2162.5 1330.2L2164.0 1327.4L2165.5 1330.3L2167.0 1328.8L2168.5 1325.6L2170.0 1328.6L2171.5 1324.5L2173.0 1324.7L2174.5 1328.7L2176.0 1328.6L2177.5 1327.6L2179.0 1327.5L2180.5 1325.3L2182.0 1329.3L2183.5 1327.7L2185.0 1327.4L2186.5 1333.5L2188.0 1328.2L2189.5 1327.7L2191.0 1330.9L2192.5 1328.2L2194.0 1327.0L2195.5 1330.2L2197.0 1327.5L2198.5 1326.5L2200.0 1327.2L2201.5 1327.8L2203.0 1329.3L2204.5 1329.9L2206.0 1325.9L2207.5 1329.8L2209.0 1326.8L2210.5 1327.1L2212.0 1323.6L2213.5 1330.4L2215.0 1328.8L2216.5 1327.5L2218.0 1327.5L2219.5 1329.4L2221.0 1327.8L2222.5 1323.0L2224.0 1328.2L2225.5 1327.8L2227.0 1328.0L2228.5 1327.9L2230.0 1329.2L2231.5 1326.6L2233.0 1331.5L2234.5 1328.0L2236.0 1326.6L2237.5 1328.0L2239.0 1325.0L2240.5 1327.5L2242.0 1326.6L2243.5 1326.2L2245.0 1329.1L2246.5 1328.3L2248.0 1326.2L2249.5 1326.8L2251.0 1328.3L2252.5 1331.5L2254.0 1327.6L2255.5 1327.5L2257.0 1328.6L2258.5 1325.8L2260.0 1327.6L2261.5 1328.9L2263.0 1328.4L2264.5 1328.3L2266.0 1325.8L2267.5 1327.8L2269.0 1330.1L2270.5 1332.1L2272.0 1329.4L2273.5 1326.9L2275.0 1327.1L2276.5 1327.5L2278.0 1331.3L2279.5 1325.6L2281.0 1327.5L2282.5 1325.1L2284.0 1327.1L2285.5 1327.3L2287.0 1329.3L2288.5 1329.1L2290.0 1328.2L2291.5 1327.4L2293.0 1327.1L2294.5 1330.5L2296.0 1327.6L2297.5 1326.0L2299.0 1326.6L2300.5 1327.9L2302.0 1326.7L2303.5 1325.5L2305.0 1329.6L2306.5 1327.0L2308.0 1328.0L2309.5 1328.5L2311.0 1328.0L2312.5 1328.2L2314.0 1324.4L2315.5 1328.7L2317.0 1328.4L2318.5 1328.2L2320.0 1328.8L2321.5 1332.6L2323.0 1331.8L2324.5 1330.4L2326.0 1331.8L2327.5 1328.7L2329.0 1329.4L2330.5 1330.3L2332.0 1331.1L2333.5 1331.0" fill="none" stroke="#d81ad8" stroke-width="9.2" stroke-linejoin="round" stroke-linecap="butt"/>
<path d="M208.0 1659.8L209.5 1660.0L211.0 1659.6L212.5 1659.3L214.0 1659.5L215.5 1659.2L217.0 1659.8L218.5 1660.6L220.0 1659.5L221.5 1659.4L223.0 1660.1L224.5 1660.0L226.0 1659.8L227.5 1659.2L229.0 1659.7L230.5 1660.2L232.0 1658.9L233.5 1659.5L235.0 1658.6L236.5 1659.0L238.0 1658.6L239.5 1659.6L241.0 1659.0L242.5 1659.9L244.0 1659.8L245.5 1659.6L247.0 1658.2L248.5 1659.4L250.0 1659.7L251.5 1659.8L253.0 1658.8L254.5 1659.4L256.0 1659.1L257.5 1659.2L259.0 1660.3L260.5 1659.2L262.0 1659.7L263.5 1660.2L265.0 1659.3L266.5 1659.6L268.0 1659.7L269.5 1659.7L271.0 1658.9L272.5 1659.7L274.0 1660.5L275.5 1658.7L277.0 1660.2L278.5 1659.7L280.0 1659.3L281.5 1660.8L283.0 1660.1L284.5 1658.9L286.0 1659.7L287.5 1660.0L289.0 1659.5L290.5 1660.0L292.0 1659.6L293.5 1660.0L295.0 1660.5L296.5 1659.2L298.0 1659.7L299.5 1659.3L301.0 1659.7L302.5 1658.9L304.0 1659.2L305.5 1659.5L307.0 1660.1L308.5 1660.3L310.0 1658.8L311.5 1659.1L313.0 1660.0L314.5 1658.4L316.0 1659.3L317.5 1659.5L319.0 1660.3L320.5 1660.0L322.0 1659.4L323.5 1659.3L325.0 1659.4L326.5 1660.5L328.0 1659.3L329.5 1659.3L331.0 1659.7L332.5 1659.5L334.0 1659.4L335.5 1658.8L337.0 1659.5L338.5 1659.2L340.0 1660.2L341.5 1659.9L343.0 1659.5L344.5 1659.9L346.0 1659.3L347.5 1660.1L349.0 1659.5L350.5 1659.8L352.0 1658.7L353.5 1659.7L355.0 1658.5L356.5 1658.2L358.0 1659.3L359.5 1658.9L361.0 1659.6L362.5 1660.8L364.0 1659.0L365.5 1659.1L367.0 1659.6L368.5 1659.7L370.0 1659.3L371.5 1659.3L373.0 1659.9L374.5 1659.7L376.0 1658.8L377.5 1659.4L379.0 1659.4L380.5 1658.8L382.0 1659.6L383.5 1658.9L385.0 1660.0L386.5 1659.5L388.0 1659.5L389.5 1659.0L391.0 1659.3L392.5 1658.2L394.0 1658.7L395.5 1659.6L397.0 1658.1L398.5 1659.9L400.0 1658.3L401.5 1659.8L403.0 1658.9L404.5 1659.8L406.0 1659.4L407.5 1658.4L409.0 1660.1L410.5 1660.2L412.0 1659.3L413.5 1659.2L415.0 1659.2L416.5 1658.7L418.0 1660.0L419.5 1659.0L421.0 1659.3L422.5 1658.8L424.0 1658.9L425.5 1658.5L427.0 1660.1L428.5 1659.2L430.0 1659.9L431.5 1659.3L433.0 1658.9L434.5 1659.1L436.0 1658.9L437.5 1659.3L439.0 1659.1L440.5 1659.1L442.0 1658.4L443.5 1658.8L445.0 1660.3L446.5 1658.9L448.0 1658.6L449.5 1659.5L451.0 1660.1L452.5 1658.4L454.0 1659.1L455.5 1658.9L457.0 1658.2L458.5 1659.7L460.0 1659.2L461.5 1659.3L463.0 1658.8L464.5 1659.5L466.0 1658.9L467.5 1659.1L469.0 1658.5L470.5 1658.5L472.0 1660.0L473.5 1658.9L475.0 1659.4L476.5 1659.2L478.0 1658.9L479.5 1658.9L481.0 1659.6L482.5 1659.0L484.0 1659.1L485.5 1659.2L487.0 1659.9L488.5 1659.6L490.0 1659.4L491.5 1658.8L493.0 1658.3L494.5 1659.7L496.0 1659.7L497.5 1659.1L499.0 1659.5L500.5 1659.6L502.0 1659.6L503.5 1659.7L505.0 1658.8L506.5 1660.0L508.0 1658.4L509.5 1659.6L511.0 1659.4L512.5 1659.6L514.0 1660.2L515.5 1660.0L517.0 1658.4L518.5 1658.1L520.0 1659.6L521.5 1658.5L523.0 1659.1L524.5 1659.6L526.0 1658.1L527.5 1657.8L529.0 1659.2L530.5 1659.1L532.0 1658.9L533.5 1659.1L535.0 1658.5L536.5 1658.1L538.0 1658.9L539.5 1658.4L541.0 1658.0L542.5 1659.3L544.0 1659.0L545.5 1659.3L547.0 1658.4L548.5 1658.6L550.0 1658.3L551.5 1658.2L553.0 1658.7L554.5 1657.9L556.0 1658.4L557.5 1658.1L559.0 1658.9L560.5 1656.6L562.0 1657.7L563.5 1656.8L565.0 1656.6L566.5 1655.4L568.0 1655.7L569.5 1656.0L571.0 1655.2L572.5 1654.9L574.0 1654.3L575.5 1654.8L577.0 1653.7L578.5 1652.1L580.0 1652.6L581.5 1651.6L583.0 1650.5L584.5 1651.9L586.0 1652.9L587.5 1652.1L589.0 1651.3L590.5 1651.4L592.0 1652.7L593.5 1652.1L595.0 1652.0L596.5 1652.0L598.0 1652.0L599.5 1652.5L601.0 1652.3L602.5 1652.1L604.0 1651.4L605.5 1652.3L607.0 1651.6L608.5 1652.7L610.0 1651.4L611.5 1652.3L613.0 1652.7L614.5 1652.3L616.0 1654.5L617.5 1654.7L619.0 1653.8L620.5 1654.7L622.0 1654.6L623.5 1652.8L625.0 1654.5L626.5 1654.4L628.0 1654.5L629.5 1653.8L631.0 1654.2L632.5 1654.3L634.0 1655.1L635.5 1654.6L637.0 1654.4L638.5 1655.3L640.0 1654.1L641.5 1654.2L643.0 1653.3L644.5 1655.3L646.0 1655.0L647.5 1655.0L649.0 1654.8L650.5 1654.5L652.0 1654.6L653.5 1654.4L655.0 1654.6L656.5 1655.0L658.0 1656.3L659.5 1656.2L661.0 1656.2L662.5 1656.2L664.0 1656.4L665.5 1657.9L667.0 1657.3L668.5 1657.0L670.0 1656.8L671.5 1656.3L673.0 1657.0L674.5 1657.5L676.0 1656.8L677.5 1656.9L679.0 1656.9L680.5 1657.1L682.0 1656.0L683.5 1656.9L685.0 1656.5L686.5 1657.5L688.0 1656.5L689.5 1657.3L691.0 1657.9L692.5 1656.8L694.0 1656.6L695.5 1657.1L697.0 1657.0L698.5 1656.4L700.0 1657.3L701.5 1658.2L703.0 1656.9L704.5 1657.0L706.0 1656.5L707.5 1657.5L709.0 1656.7L710.5 1656.9L712.0 1658.4L713.5 1657.2L715.0 1658.5L716.5 1658.8L718.0 1658.1L719.5 1658.3L721.0 1659.1L722.5 1657.9L724.0 1657.7L725.5 1657.2L727.0 1658.1L728.5 1659.0L730.0 1658.7L731.5 1657.6L733.0 1657.7L734.5 1657.9L736.0 1658.4L737.5 1658.1L739.0 1658.4L740.5 1658.5L742.0 1658.2L743.5 1658.4L745.0 1658.5L746.5 1658.4L748.0 1658.7L749.5 1659.5L751.0 1658.7L752.5 1658.3L754.0 1657.2L755.5 1658.3L757.0 1656.8L758.5 1657.0L760.0 1658.2L761.5 1658.0L763.0 1657.3L764.5 1656.3L766.0 1657.0L767.5 1656.7L769.0 1657.3L770.5 1658.2L772.0 1656.8L773.5 1656.1L775.0 1655.8L776.5 1656.3L778.0 1656.2L779.5 1655.6L781.0 1656.3L782.5 1655.5L784.0 1656.9L785.5 1656.8L787.0 1656.9L788.5 1655.9L790.0 1656.5L791.5 1656.1L793.0 1656.0L794.5 1656.0L796.0 1655.4L797.5 1655.3L799.0 1656.7L800.5 1656.1L802.0 1656.3L803.5 1656.8L805.0 1655.2L806.5 1655.7L808.0 1656.3L809.5 1656.5L811.0 1656.0L812.5 1656.8L814.0 1656.3L815.5 1655.5L817.0 1655.7L818.5 1656.7L820.0 1656.5L821.5 1655.1L823.0 1657.0L824.5 1656.6L826.0 1657.0L827.5 1656.0L829.0 1656.0L830.5 1655.5L832.0 1657.7L833.5 1656.1L835.0 1657.2L836.5 1655.8L838.0 1656.3L839.5 1655.2L841.0 1656.0L842.5 1656.8L844.0 1655.5L845.5 1656.9L847.0 1656.4L848.5 1655.6L850.0 1655.9L851.5 1655.9L853.0 1656.2L854.5 1655.9L856.0 1655.7L857.5 1656.0L859.0 1655.6L860.5 1655.4L862.0 1656.2L863.5 1656.8L865.0 1655.4L866.5 1656.4L868.0 1656.3L869.5 1656.5L871.0 1658.0L872.5 1657.7L874.0 1659.4L875.5 1658.5L877.0 1659.6L878.5 1659.4L880.0 1659.3L881.5 1660.1L883.0 1659.7L884.5 1660.2L886.0 1659.8L887.5 1659.2L889.0 1659.8L890.5 1659.9L892.0 1660.4L893.5 1659.3L895.0 1659.8L896.5 1658.8L898.0 1660.2L899.5 1659.2L901.0 1658.8L902.5 1659.8L904.0 1660.5L905.5 1658.9L907.0 1659.2L908.5 1659.4L910.0 1659.2L911.5 1660.1L913.0 1659.4L914.5 1659.4L916.0 1660.2L917.5 1659.4L919.0 1660.1L920.5 1659.3L922.0 1659.1L923.5 1658.8L925.0 1661.0L926.5 1659.7L928.0 1660.0L929.5 1659.8L931.0 1660.0L932.5 1659.9L934.0 1661.0L935.5 1659.2L937.0 1658.9L938.5 1659.2L940.0 1659.1L941.5 1660.3L943.0 1660.3L944.5 1659.3L946.0 1659.0L947.5 1659.6L949.0 1660.7L950.5 1658.1L952.0 1660.1L953.5 1659.2L955.0 1660.4L956.5 1659.2L958.0 1659.6L959.5 1658.8L961.0 1658.9L962.5 1660.0L964.0 1659.2L965.5 1658.0L967.0 1657.1L968.5 1656.0L970.0 1656.5L971.5 1656.5L973.0 1656.3L974.5 1656.2L976.0 1655.6L977.5 1656.2L979.0 1656.2L980.5 1657.0L982.0 1657.4L983.5 1656.2L985.0 1655.8L986.5 1656.3L988.0 1655.9L989.5 1655.9L991.0 1656.3L992.5 1655.7L994.0 1656.7L995.5 1656.3L997.0 1656.5L998.5 1656.2L1000.0 1655.9L1001.5 1655.8L1003.0 1656.2L1004.5 1656.0L1006.0 1656.5L1007.5 1656.3L1009.0 1655.5L1010.5 1656.4L1012.0 1655.5L1013.5 1656.0L1015.0 1656.2L1016.5 1655.1L1018.0 1656.4L1019.5 1656.4L1021.0 1656.2L1022.5 1656.1L1024.0 1656.1L1025.5 1655.7L1027.0 1656.1L1028.5 1656.0L1030.0 1656.3L1031.5 1655.6L1033.0 1656.4L1034.5 1656.3L1036.0 1656.2L1037.5 1656.0L1039.0 1656.5L1040.5 1655.2L1042.0 1656.4L1043.5 1656.2L1045.0 1656.2L1046.5 1656.2L1048.0 1655.5L1049.5 1655.7L1051.0 1656.2L1052.5 1656.0L1054.0 1655.8L1055.5 1654.7L1057.0 1655.9L1058.5 1656.2L1060.0 1656.1L1061.5 1655.5L1063.0 1654.4L1064.5 1655.8L1066.0 1655.1L1067.5 1653.6L1069.0 1655.3L1070.5 1654.1L1072.0 1654.1L1073.5 1654.4L1075.0 1655.5L1076.5 1654.4L1078.0 1654.7L1079.5 1655.5L1081.0 1655.4L1082.5 1654.2L1084.0 1654.1L1085.5 1653.4L1087.0 1653.6L1088.5 1654.2L1090.0 1654.1L1091.5 1653.8L1093.0 1654.2L1094.5 1653.0L1096.0 1653.3L1097.5 1653.7L1099.0 1653.5L1100.5 1653.6L1102.0 1653.1L1103.5 1652.6L1105.0 1652.8L1106.5 1651.9L1108.0 1651.3L1109.5 1652.5L1111.0 1652.0L1112.5 1652.0L1114.0 1650.7L1115.5 1651.3L1117.0 1651.0L1118.5 1650.6L1120.0 1649.6L1121.5 1650.6L1123.0 1651.1L1124.5 1650.6L1126.0 1649.8L1127.5 1649.9L1129.0 1650.2L1130.5 1647.8L1132.0 1649.2L1133.5 1649.3L1135.0 1649.1L1136.5 1649.4L1138.0 1648.8L1139.5 1648.0L1141.0 1647.7L1142.5 1647.7L1144.0 1646.6L1145.5 1646.5L1147.0 1646.7L1148.5 1647.0L1150.0 1645.4L1150.8 1645.2L1151.5 1645.2L1152.2 1645.6L1153.0 1644.6L1153.8 1645.3L1154.5 1643.6L1155.2 1643.9L1156.0 1643.6L1156.8 1644.0L1157.5 1643.9L1158.2 1642.2L1159.0 1642.3L1159.8 1642.7L1160.5 1641.9L1161.2 1641.1L1162.0 1642.3L1162.8 1641.7L1163.5 1641.5L1164.2 1640.6L1165.0 1641.2L1165.8 1640.2L1166.5 1640.6L1167.2 1639.2L1168.0 1638.9L1168.8 1639.1L1169.5 1638.3L1170.2 1638.7L1171.0 1638.1L1171.8 1637.1L1172.5 1637.3L1173.2 1636.7L1174.0 1636.9L1174.8 1635.7L1175.5 1635.4L1176.2 1635.9L1177.0 1636.0L1177.8 1635.4L1178.5 1633.9L1179.2 1633.6L1180.0 1633.7L1180.8 1632.4L1181.5 1631.5L1182.2 1631.5L1183.0 1631.2L1183.8 1630.0L1184.5 1629.1L1185.2 1628.6L1186.0 1629.0L1186.8 1627.8L1187.5 1627.4L1188.2 1627.0L1189.0 1626.5L1189.8 1625.4L1190.5 1625.1L1191.2 1623.8L1192.0 1623.3L1192.8 1622.3L1193.5 1622.5L1194.2 1621.2L1195.0 1620.1L1195.8 1619.5L1196.5 1618.7L1197.2 1618.2L1198.0 1616.4L1198.8 1615.7L1199.5 1615.0L1200.2 1615.1L1201.0 1613.6L1201.8 1612.2L1202.5 1611.4L1203.2 1610.8L1204.0 1608.9L1204.8 1607.7L1205.5 1607.0L1206.2 1605.6L1207.0 1604.4L1207.8 1602.8L1208.5 1602.2L1209.2 1600.8L1210.0 1599.1L1210.8 1597.7L1211.5 1595.5L1212.2 1594.7L1213.0 1592.9L1213.8 1591.5L1214.5 1589.9L1215.2 1588.0L1216.0 1586.0L1216.8 1584.7L1217.5 1582.6L1218.2 1580.8L1219.0 1578.9L1219.8 1577.0L1220.5 1574.6L1221.2 1573.2L1222.0 1570.9L1222.8 1568.9L1223.5 1566.9L1224.2 1564.3L1225.0 1561.6L1225.8 1559.4L1226.5 1557.0L1227.2 1554.6L1228.0 1552.2L1228.8 1549.3L1229.5 1547.1L1230.2 1544.2L1231.0 1541.8L1231.8 1539.0L1232.5 1536.3L1233.2 1533.5L1234.0 1530.7L1234.8 1527.8L1235.5 1524.8L1236.2 1522.2L1237.0 1519.7L1237.8 1516.8L1238.5 1513.9L1239.2 1511.0L1240.0 1508.0L1240.8 1505.5L1241.5 1502.5L1242.2 1499.8L1243.0 1497.2L1243.8 1494.7L1244.5 1492.1L1245.2 1489.7L1246.0 1487.2L1246.8 1485.1L1247.5 1483.6L1248.2 1481.1L1249.0 1479.3L1249.8 1477.8L1250.5 1476.3L1251.2 1474.4L1252.0 1473.5L1252.8 1472.8L1253.5 1471.8L1254.2 1471.0L1255.0 1471.3L1255.8 1469.8L1256.5 1470.2L1256.5 1469.8L1257.2 1471.1L1258.0 1470.0L1258.8 1471.5L1259.5 1472.9L1260.2 1474.8L1261.0 1476.7L1261.8 1479.1L1262.5 1481.1L1263.2 1484.2L1264.0 1487.0L1264.8 1490.2L1265.5 1493.7L1266.2 1497.1L1267.0 1500.6L1267.8 1504.6L1268.5 1508.3L1269.2 1512.3L1270.0 1516.4L1270.8 1520.3L1271.5 1524.4L1272.2 1528.2L1273.0 1532.0L1273.8 1535.9L1274.5 1539.7L1275.2 1543.4L1276.0 1547.3L1276.8 1550.8L1277.5 1554.1L1278.2 1557.9L1279.0 1561.1L1279.8 1564.4L1280.5 1567.5L1281.2 1570.7L1282.0 1573.5L1282.8 1576.6L1283.5 1579.2L1284.2 1581.9L1285.0 1584.4L1285.8 1586.6L1286.5 1589.2L1287.2 1591.5L1288.0 1593.8L1288.8 1595.6L1289.5 1598.3L1290.2 1600.0L1291.0 1601.6L1291.8 1603.3L1292.5 1605.4L1293.2 1607.2L1294.0 1608.6L1294.8 1610.4L1295.5 1611.7L1296.2 1613.5L1297.0 1614.6L1297.8 1616.1L1298.5 1617.7L1299.2 1619.5L1300.0 1619.5L1300.8 1620.9L1301.5 1621.9L1302.2 1623.5L1303.0 1623.9L1303.8 1625.1L1304.5 1626.2L1305.2 1626.8L1306.0 1627.7L1306.8 1628.7L1307.5 1628.9L1308.2 1630.0L1309.0 1631.2L1309.8 1632.1L1310.5 1632.7L1311.2 1632.7L1312.0 1634.0L1312.8 1635.2L1313.5 1635.7L1314.2 1636.0L1315.0 1636.2L1315.8 1637.5L1316.5 1637.5L1317.2 1637.7L1318.0 1638.4L1318.8 1640.1L1319.5 1639.9L1320.2 1640.9L1321.0 1640.5L1321.8 1641.7L1322.5 1641.3L1323.2 1641.9L1324.0 1643.7L1324.8 1643.2L1325.5 1642.9L1326.2 1643.5L1327.0 1644.1L1327.8 1644.9L1328.5 1644.3L1329.2 1644.0L1330.0 1645.1L1330.8 1645.6L1331.5 1645.9L1332.2 1646.9L1333.0 1646.6L1333.8 1647.2L1334.5 1646.4L1335.2 1647.7L1336.0 1648.7L1336.8 1648.2L1337.5 1648.1L1338.2 1648.3L1339.0 1649.5L1339.8 1648.2L1340.5 1648.8L1341.2 1649.4L1342.0 1649.8L1342.8 1649.3L1343.5 1649.9L1344.2 1649.8L1345.0 1650.2L1345.8 1650.2L1346.5 1649.8L1347.2 1650.6L1348.0 1651.3L1348.8 1650.4L1349.5 1651.0L1350.2 1651.7L1351.0 1650.8L1351.8 1651.7L1352.5 1651.1L1353.2 1652.6L1354.0 1653.4L1354.8 1653.4L1355.5 1652.2L1356.2 1652.9L1357.0 1652.7L1357.8 1652.8L1358.5 1653.8L1359.2 1652.2L1360.0 1653.7L1360.8 1653.2L1361.5 1654.2L1362.2 1653.5L1363.0 1653.1L1363.8 1653.8L1364.5 1654.2L1365.2 1653.9L1366.0 1654.3L1366.8 1653.8L1367.5 1652.9L1368.2 1654.8L1369.0 1654.8L1369.8 1654.5L1370.5 1654.6L1372.0 1655.3L1373.5 1654.6L1375.0 1654.6L1376.5 1655.1L1378.0 1656.1L1379.5 1654.7L1381.0 1656.4L1382.5 1655.4L1384.0 1655.3L1385.5 1656.8L1387.0 1656.1L1388.5 1655.5L1390.0 1656.2L1391.5 1657.1L1393.0 1657.4L1394.5 1656.5L1396.0 1657.1L1397.5 1657.4L1399.0 1656.7L1400.5 1657.4L1402.0 1657.3L1403.5 1657.1L1405.0 1657.2L1406.5 1657.6L1408.0 1657.7L1409.5 1657.4L1411.0 1657.6L1412.5 1658.6L1414.0 1658.1L1415.5 1658.6L1417.0 1658.8L1418.5 1658.6L1420.0 1659.6L1421.5 1657.8L1423.0 1658.9L1424.5 1658.3L1426.0 1659.7L1427.5 1659.6L1429.0 1657.5L1430.5 1658.2L1432.0 1659.2L1433.5 1659.3L1435.0 1659.4L1436.5 1658.9L1438.0 1659.3L1439.5 1659.5L1441.0 1659.1L1442.5 1659.8L1444.0 1657.9L1445.5 1659.7L1447.0 1658.7L1448.5 1660.0L1450.0 1659.3L1451.5 1659.0L1453.0 1659.8L1454.5 1659.1L1456.0 1659.1L1457.5 1658.8L1459.0 1659.7L1460.5 1660.1L1462.0 1660.4L1463.5 1659.7L1465.0 1660.5L1466.5 1659.9L1468.0 1659.8L1469.5 1660.2L1471.0 1660.5L1472.5 1659.7L1474.0 1659.8L1475.5 1659.9L1477.0 1660.0L1478.5 1659.4L1480.0 1660.6L1481.5 1659.8L1483.0 1660.3L1484.5 1659.5L1486.0 1660.2L1487.5 1660.3L1489.0 1659.8L1490.5 1661.3L1492.0 1660.3L1493.5 1661.1L1495.0 1660.7L1496.5 1659.7L1498.0 1659.9L1499.5 1660.4L1501.0 1660.2L1502.5 1660.2L1504.0 1660.0L1505.5 1659.1L1507.0 1660.0L1508.5 1658.8L1510.0 1660.4L1511.5 1659.7L1513.0 1659.7L1514.5 1660.0L1516.0 1660.3L1517.5 1659.3L1519.0 1659.1L1520.5 1659.6L1522.0 1659.0L1523.5 1659.6L1525.0 1661.2L1526.5 1659.6L1528.0 1660.6L1529.5 1659.4L1531.0 1660.4L1532.5 1660.0L1534.0 1660.2L1535.5 1660.6L1537.0 1661.3L1538.5 1660.4L1540.0 1660.3L1541.5 1659.7L1543.0 1660.6L1544.5 1660.1L1546.0 1660.7L1547.5 1660.2L1549.0 1661.3L1550.5 1659.1L1552.0 1660.1L1553.5 1660.8L1555.0 1660.0L1556.5 1659.8L1558.0 1660.1L1559.5 1659.4L1561.0 1660.3L1562.5 1661.7L1564.0 1660.9L1565.5 1659.6L1567.0 1659.7L1568.5 1660.0L1570.0 1660.9L1571.5 1659.8L1573.0 1659.8L1574.5 1660.8L1576.0 1660.8L1577.5 1660.0L1579.0 1659.6L1580.5 1659.3L1582.0 1659.8L1583.5 1658.9L1585.0 1660.7L1586.5 1659.9L1588.0 1660.5L1589.5 1661.4L1591.0 1660.9L1592.5 1659.6L1594.0 1660.8L1595.5 1660.9L1597.0 1659.8L1598.5 1659.7L1600.0 1660.2L1601.5 1659.3L1603.0 1661.1L1604.5 1658.8L1606.0 1659.6L1607.5 1660.1L1609.0 1660.1L1610.5 1660.3L1612.0 1660.4L1613.5 1660.1L1615.0 1660.9L1616.5 1658.9L1618.0 1660.2L1619.5 1659.8L1621.0 1660.3L1622.5 1660.3L1624.0 1659.7L1625.5 1659.8L1627.0 1660.7L1628.5 1660.4L1630.0 1659.8L1631.5 1661.4L1633.0 1661.6L1634.5 1659.3L1636.0 1660.4L1637.5 1661.7L1639.0 1660.6L1640.5 1660.3L1642.0 1660.0L1643.5 1659.8L1645.0 1660.0L1646.5 1659.8L1648.0 1660.6L1649.5 1659.9L1651.0 1659.9L1652.5 1659.4L1654.0 1660.1L1655.5 1659.6L1657.0 1660.0L1658.5 1660.7L1660.0 1660.3L1661.5 1660.4L1663.0 1660.3L1664.5 1660.1L1666.0 1660.0L1667.5 1659.9L1669.0 1660.6L1670.5 1659.4L1672.0 1660.9L1673.5 1660.1L1675.0 1659.6L1676.5 1659.8L1678.0 1659.7L1679.5 1660.2L1681.0 1659.6L1682.5 1660.7L1684.0 1659.6L1685.5 1658.7L1687.0 1659.6L1688.5 1658.8L1690.0 1660.0L1691.5 1660.7L1693.0 1660.4L1694.5 1659.2L1696.0 1659.6L1697.5 1661.1L1699.0 1660.2L1700.5 1660.0L1702.0 1660.6L1703.5 1661.5L1705.0 1660.8L1706.5 1660.1L1708.0 1660.2L1709.5 1660.4L1711.0 1659.6L1712.5 1659.3L1714.0 1660.0L1715.5 1659.4L1717.0 1659.9L1718.5 1660.0L1720.0 1661.4L1721.5 1659.4L1723.0 1659.9L1724.5 1659.8L1726.0 1660.2L1727.5 1660.6L1729.0 1659.6L1730.5 1659.4L1732.0 1658.9L1733.5 1659.4L1735.0 1660.2L1736.5 1659.9L1738.0 1659.3L1739.5 1659.7L1741.0 1659.9L1742.5 1660.2L1744.0 1659.5L1745.5 1659.7L1747.0 1658.8L1748.5 1659.2L1750.0 1660.8L1751.5 1658.5L1753.0 1659.6L1754.5 1660.0L1756.0 1659.6L1757.5 1659.4L1759.0 1659.8L1760.5 1659.8L1762.0 1659.8L1763.5 1658.7L1765.0 1659.7L1766.5 1659.3L1768.0 1659.5L1769.5 1659.9L1771.0 1660.2L1772.5 1660.3L1774.0 1659.5L1775.5 1660.3L1777.0 1660.5L1778.5 1660.4L1780.0 1660.6L1781.5 1659.7L1783.0 1659.6L1784.5 1660.2L1786.0 1658.9L1787.5 1659.9L1789.0 1659.4L1790.5 1659.5L1792.0 1658.7L1793.5 1659.2L1795.0 1659.7L1796.5 1660.2L1798.0 1660.3L1799.5 1659.6L1801.0 1659.6L1802.5 1659.2L1804.0 1659.9L1805.5 1659.5L1807.0 1660.0L1808.5 1660.7L1810.0 1659.6L1811.5 1658.8L1813.0 1659.1L1814.5 1658.8L1816.0 1658.9L1817.5 1660.4L1819.0 1659.8L1820.5 1658.7L1822.0 1660.0L1823.5 1660.4L1825.0 1659.4L1826.5 1659.2L1828.0 1659.4L1829.5 1659.8L1831.0 1660.0L1832.5 1660.3L1834.0 1660.3L1835.5 1660.3L1837.0 1660.4L1838.5 1659.9L1840.0 1658.6L1841.5 1659.5L1843.0 1659.7L1844.5 1659.3L1846.0 1660.1L1847.5 1659.3L1849.0 1659.0L1850.5 1660.4L1852.0 1659.9L1853.5 1659.6L1855.0 1660.0L1856.5 1660.1L1858.0 1659.7L1859.5 1658.0L1861.0 1659.1L1862.5 1659.2L1864.0 1658.9L1865.5 1659.6L1867.0 1660.2L1868.5 1659.2L1870.0 1658.8L1871.5 1660.6L1873.0 1659.2L1874.5 1658.7L1876.0 1659.6L1877.5 1659.7L1879.0 1659.0L1880.5 1659.9L1882.0 1659.1L1883.5 1658.8L1885.0 1659.5L1886.5 1659.8L1888.0 1659.0L1889.5 1659.6L1891.0 1659.3L1892.5 1661.0L1894.0 1658.9L1895.5 1660.2L1897.0 1659.3L1898.5 1659.3L1900.0 1659.8L1901.5 1659.9L1903.0 1660.1L1904.5 1659.5L1906.0 1658.9L1907.5 1659.0L1909.0 1659.6L1910.5 1659.6L1912.0 1660.1L1913.5 1659.5L1915.0 1659.9L1916.5 1660.2L1918.0 1659.4L1919.5 1658.4L1921.0 1658.5L1922.5 1658.4L1924.0 1660.2L1925.5 1658.7L1927.0 1660.0L1928.5 1659.6L1930.0 1660.2L1931.5 1659.7L1933.0 1659.0L1934.5 1658.8L1936.0 1658.8L1937.5 1658.7L1939.0 1658.1L1940.5 1658.2L1942.0 1658.9L1943.5 1656.7L1945.0 1657.7L1946.5 1656.8L1948.0 1657.3L1949.5 1657.4L1951.0 1656.7L1952.5 1657.0L1954.0 1655.4L1955.5 1656.8L1957.0 1655.5L1958.5 1656.1L1960.0 1655.6L1961.5 1653.8L1963.0 1654.6L1964.5 1655.0L1966.0 1655.6L1967.5 1654.6L1969.0 1654.4L1970.5 1653.2L1972.0 1654.7L1973.5 1654.8L1975.0 1653.6L1976.5 1653.3L1978.0 1652.4L1979.5 1653.9L1981.0 1654.9L1982.5 1653.7L1984.0 1654.1L1985.5 1653.6L1987.0 1652.7L1988.5 1654.1L1990.0 1652.6L1991.5 1653.2L1993.0 1653.5L1994.5 1653.8L1996.0 1653.6L1997.5 1653.5L1999.0 1652.8L2000.5 1652.5L2002.0 1653.3L2003.5 1652.9L2005.0 1652.5L2006.5 1652.5L2008.0 1653.0L2009.5 1652.2L2011.0 1652.5L2012.5 1652.3L2014.0 1653.4L2015.5 1653.5L2017.0 1654.5L2018.5 1652.4L2020.0 1652.9L2021.5 1653.8L2023.0 1653.2L2024.5 1653.1L2026.0 1654.3L2027.5 1653.1L2029.0 1652.6L2030.5 1652.5L2032.0 1653.5L2033.5 1653.5L2035.0 1652.5L2036.5 1652.7L2038.0 1653.6L2039.5 1653.6L2041.0 1652.9L2042.5 1653.7L2044.0 1653.6L2045.5 1652.2L2047.0 1653.1L2048.5 1653.6L2050.0 1653.1L2051.5 1652.4L2053.0 1653.8L2054.5 1654.8L2056.0 1655.7L2057.5 1653.9L2059.0 1657.1L2060.5 1655.2L2062.0 1656.6L2063.5 1656.9L2065.0 1656.8L2066.5 1656.3L2068.0 1655.5L2069.5 1656.6L2071.0 1655.8L2072.5 1654.7L2074.0 1657.9L2075.5 1656.6L2077.0 1657.3L2078.5 1655.7L2080.0 1657.1L2081.5 1657.2L2083.0 1657.1L2084.5 1656.2L2086.0 1655.5L2087.5 1656.1L2089.0 1654.9L2090.5 1655.2L2092.0 1656.3L2093.5 1655.6L2095.0 1656.1L2096.5 1656.1L2098.0 1657.4L2099.5 1657.0L2101.0 1656.2L2102.5 1656.9L2104.0 1655.7L2105.5 1656.0L2107.0 1656.7L2108.5 1655.5L2110.0 1656.0L2111.5 1655.4L2113.0 1656.3L2114.5 1657.2L2116.0 1655.7L2117.5 1656.3L2119.0 1655.7L2120.5 1655.5L2122.0 1655.5L2123.5 1657.1L2125.0 1657.6L2126.5 1656.5L2128.0 1655.9L2129.5 1656.9L2131.0 1656.5L2132.5 1657.5L2134.0 1657.7L2135.5 1658.2L2137.0 1658.9L2138.5 1658.6L2140.0 1659.1L2141.5 1658.5L2143.0 1659.4L2144.5 1658.9L2146.0 1659.7L2147.5 1659.2L2149.0 1659.9L2150.5 1660.1L2152.0 1658.9L2153.5 1659.3L2155.0 1659.2L2156.5 1660.2L2158.0 1660.8L2159.5 1660.3L2161.0 1659.6L2162.5 1660.7L2164.0 1658.9L2165.5 1660.7L2167.0 1659.4L2168.5 1658.1L2170.0 1661.4L2171.5 1660.7L2173.0 1659.2L2174.5 1659.9L2176.0 1659.7L2177.5 1659.9L2179.0 1658.9L2180.5 1659.4L2182.0 1660.1L2183.5 1659.9L2185.0 1660.5L2186.5 1659.8L2188.0 1661.2L2189.5 1659.4L2191.0 1660.0L2192.5 1658.7L2194.0 1659.0L2195.5 1660.6L2197.0 1659.2L2198.5 1660.1L2200.0 1659.8L2201.5 1659.2L2203.0 1659.6L2204.5 1659.5L2206.0 1659.5L2207.5 1660.3L2209.0 1660.2L2210.5 1659.5L2212.0 1659.3L2213.5 1660.0L2215.0 1659.7L2216.5 1660.4L2218.0 1661.4L2219.5 1660.3L2221.0 1659.8L2222.5 1659.7L2224.0 1659.3L2225.5 1659.3L2227.0 1659.2L2228.5 1659.6L2230.0 1659.5L2231.5 1660.2L2233.0 1659.6L2234.5 1659.7L2236.0 1659.1L2237.5 1660.8L2239.0 1660.1L2240.5 1660.9L2242.0 1660.3L2243.5 1660.7L2245.0 1659.7L2246.5 1660.2L2248.0 1661.4L2249.5 1659.1L2251.0 1660.5L2252.5 1660.8L2254.0 1660.1L2255.5 1660.3L2257.0 1660.6L2258.5 1659.4L2260.0 1660.1L2261.5 1659.3L2263.0 1659.4L2264.5 1659.4L2266.0 1659.7L2267.5 1659.9L2269.0 1660.1L2270.5 1658.9L2272.0 1661.0L2273.5 1660.5L2275.0 1660.2L2276.5 1659.6L2278.0 1659.7L2279.5 1660.1L2281.0 1660.1L2282.5 1658.8L2284.0 1660.3L2285.5 1661.6L2287.0 1658.7L2288.5 1660.4L2290.0 1660.0L2291.5 1659.7L2293.0 1660.6L2294.5 1659.1L2296.0 1659.9L2297.5 1660.7L2299.0 1659.7L2300.5 1659.5L2302.0 1659.9L2303.5 1659.5L2305.0 1660.8L2306.5 1659.2L2308.0 1660.3L2309.5 1659.0L2311.0 1660.2L2312.5 1659.7L2314.0 1658.2L2315.5 1659.8L2317.0 1659.1L2318.5 1659.5L2320.0 1660.7L2321.5 1659.1L2323.0 1659.1L2324.5 1660.7L2326.0 1659.9L2327.5 1660.8L2329.0 1660.0L2330.5 1659.3L2332.0 1659.8L2333.5 1660.6" fill="none" stroke="#0c0ca8" stroke-width="7.6" stroke-linejoin="round" stroke-linecap="butt"/>
<g stroke="#000" fill="none">
<line x1="207.6" y1="134" x2="207.6" y2="1691" stroke-width="4.3"/>
<line x1="204.5" y1="367.5" x2="2338.2" y2="367.5" stroke-width="6"/>
<line x1="400.8" y1="367.5" x2="400.8" y2="398.5" stroke-width="5.2"/>
<line x1="594.1" y1="367.5" x2="594.1" y2="381.5" stroke-width="5.2"/>
<line x1="787.4" y1="367.5" x2="787.4" y2="398.5" stroke-width="5.2"/>
<line x1="980.7" y1="367.5" x2="980.7" y2="381.5" stroke-width="5.2"/>
<line x1="1174.0" y1="367.5" x2="1174.0" y2="398.5" stroke-width="5.2"/>
<line x1="1367.2" y1="367.5" x2="1367.2" y2="381.5" stroke-width="5.2"/>
<line x1="1560.5" y1="367.5" x2="1560.5" y2="398.5" stroke-width="5.2"/>
<line x1="1753.8" y1="367.5" x2="1753.8" y2="381.5" stroke-width="5.2"/>
<line x1="1947.1" y1="367.5" x2="1947.1" y2="398.5" stroke-width="5.2"/>
<line x1="2140.4" y1="367.5" x2="2140.4" y2="381.5" stroke-width="5.2"/>
<line x1="2333.7" y1="367.5" x2="2333.7" y2="398.5" stroke-width="5.2"/>
<line x1="204.5" y1="695.3" x2="2338.2" y2="695.3" stroke-width="6"/>
<line x1="400.8" y1="695.3" x2="400.8" y2="726.3" stroke-width="5.2"/>
<line x1="594.1" y1="695.3" x2="594.1" y2="709.3" stroke-width="5.2"/>
<line x1="787.4" y1="695.3" x2="787.4" y2="726.3" stroke-width="5.2"/>
<line x1="980.7" y1="695.3" x2="980.7" y2="709.3" stroke-width="5.2"/>
<line x1="1174.0" y1="695.3" x2="1174.0" y2="726.3" stroke-width="5.2"/>
<line x1="1367.2" y1="695.3" x2="1367.2" y2="709.3" stroke-width="5.2"/>
<line x1="1560.5" y1="695.3" x2="1560.5" y2="726.3" stroke-width="5.2"/>
<line x1="1753.8" y1="695.3" x2="1753.8" y2="709.3" stroke-width="5.2"/>
<line x1="1947.1" y1="695.3" x2="1947.1" y2="726.3" stroke-width="5.2"/>
<line x1="2140.4" y1="695.3" x2="2140.4" y2="709.3" stroke-width="5.2"/>
<line x1="2333.7" y1="695.3" x2="2333.7" y2="726.3" stroke-width="5.2"/>
<line x1="204.5" y1="1025.0" x2="2338.2" y2="1025.0" stroke-width="6"/>
<line x1="400.8" y1="1025.0" x2="400.8" y2="1056.0" stroke-width="5.2"/>
<line x1="594.1" y1="1025.0" x2="594.1" y2="1039.0" stroke-width="5.2"/>
<line x1="787.4" y1="1025.0" x2="787.4" y2="1056.0" stroke-width="5.2"/>
<line x1="980.7" y1="1025.0" x2="980.7" y2="1039.0" stroke-width="5.2"/>
<line x1="1174.0" y1="1025.0" x2="1174.0" y2="1056.0" stroke-width="5.2"/>
<line x1="1367.2" y1="1025.0" x2="1367.2" y2="1039.0" stroke-width="5.2"/>
<line x1="1560.5" y1="1025.0" x2="1560.5" y2="1056.0" stroke-width="5.2"/>
<line x1="1753.8" y1="1025.0" x2="1753.8" y2="1039.0" stroke-width="5.2"/>
<line x1="1947.1" y1="1025.0" x2="1947.1" y2="1056.0" stroke-width="5.2"/>
<line x1="2140.4" y1="1025.0" x2="2140.4" y2="1039.0" stroke-width="5.2"/>
<line x1="2333.7" y1="1025.0" x2="2333.7" y2="1056.0" stroke-width="5.2"/>
<line x1="204.5" y1="1350.3" x2="2338.2" y2="1350.3" stroke-width="6"/>
<line x1="400.8" y1="1350.3" x2="400.8" y2="1381.3" stroke-width="5.2"/>
<line x1="594.1" y1="1350.3" x2="594.1" y2="1364.3" stroke-width="5.2"/>
<line x1="787.4" y1="1350.3" x2="787.4" y2="1381.3" stroke-width="5.2"/>
<line x1="980.7" y1="1350.3" x2="980.7" y2="1364.3" stroke-width="5.2"/>
<line x1="1174.0" y1="1350.3" x2="1174.0" y2="1381.3" stroke-width="5.2"/>
<line x1="1367.2" y1="1350.3" x2="1367.2" y2="1364.3" stroke-width="5.2"/>
<line x1="1560.5" y1="1350.3" x2="1560.5" y2="1381.3" stroke-width="5.2"/>
<line x1="1753.8" y1="1350.3" x2="1753.8" y2="1364.3" stroke-width="5.2"/>
<line x1="1947.1" y1="1350.3" x2="1947.1" y2="1381.3" stroke-width="5.2"/>
<line x1="2140.4" y1="1350.3" x2="2140.4" y2="1364.3" stroke-width="5.2"/>
<line x1="2333.7" y1="1350.3" x2="2333.7" y2="1381.3" stroke-width="5.2"/>
<line x1="204.5" y1="1678.5" x2="2338.2" y2="1678.5" stroke-width="6"/>
<line x1="400.8" y1="1678.5" x2="400.8" y2="1709.5" stroke-width="5.2"/>
<line x1="594.1" y1="1678.5" x2="594.1" y2="1692.5" stroke-width="5.2"/>
<line x1="787.4" y1="1678.5" x2="787.4" y2="1709.5" stroke-width="5.2"/>
<line x1="980.7" y1="1678.5" x2="980.7" y2="1692.5" stroke-width="5.2"/>
<line x1="1174.0" y1="1678.5" x2="1174.0" y2="1709.5" stroke-width="5.2"/>
<line x1="1367.2" y1="1678.5" x2="1367.2" y2="1692.5" stroke-width="5.2"/>
<line x1="1560.5" y1="1678.5" x2="1560.5" y2="1709.5" stroke-width="5.2"/>
<line x1="1753.8" y1="1678.5" x2="1753.8" y2="1692.5" stroke-width="5.2"/>
<line x1="1947.1" y1="1678.5" x2="1947.1" y2="1709.5" stroke-width="5.2"/>
<line x1="2140.4" y1="1678.5" x2="2140.4" y2="1692.5" stroke-width="5.2"/>
<line x1="2333.7" y1="1678.5" x2="2333.7" y2="1709.5" stroke-width="5.2"/>
</g>
<g font-family="'Liberation Serif','Times New Roman',serif" fill="#000" stroke="#fff" stroke-width="1.0">
<text transform="translate(416.4 1785.6) scale(1.035 1)" font-size="80" text-anchor="middle">10</text>
<text transform="translate(803.0 1785.6) scale(1.035 1)" font-size="80" text-anchor="middle">20</text>
<text transform="translate(1189.6 1785.6) scale(1.035 1)" font-size="80" text-anchor="middle">30</text>
<text transform="translate(1576.1 1785.6) scale(1.035 1)" font-size="80" text-anchor="middle">40</text>
<text transform="translate(1962.7 1785.6) scale(1.035 1)" font-size="80" text-anchor="middle">50</text>
<text transform="translate(2349.3 1785.6) scale(1.035 1)" font-size="80" text-anchor="middle">60</text>
<text x="998.6" y="1924" font-size="85.5">2Theta (degree)</text>
<text transform="translate(127.3 1139.9) rotate(-90) scale(1 0.97)" font-size="85.8">Intensity (cps)</text>
<text x="508.6" y="191.2" font-size="86.2">(100)</text>
<text x="1163.4" y="120.8" font-size="85.4">(002)</text>
<text transform="translate(1795.6 258.5) scale(1 1.035)" font-size="85.3">Mes-ExCN</text>
<text transform="translate(1784.7 581.1) scale(1 1.03)" font-size="85">ExCN</text>
<text transform="translate(1784.5 907.9) scale(1 1.03)" font-size="85.5">Mes-CN</text>
<text transform="translate(1780 1223.2) scale(1 1.045)" font-size="85.7">S-CN</text>
<text transform="translate(1780 1570.7) scale(1 1.08)" font-size="84">CN</text>
</g>
</svg>
</body></html>
